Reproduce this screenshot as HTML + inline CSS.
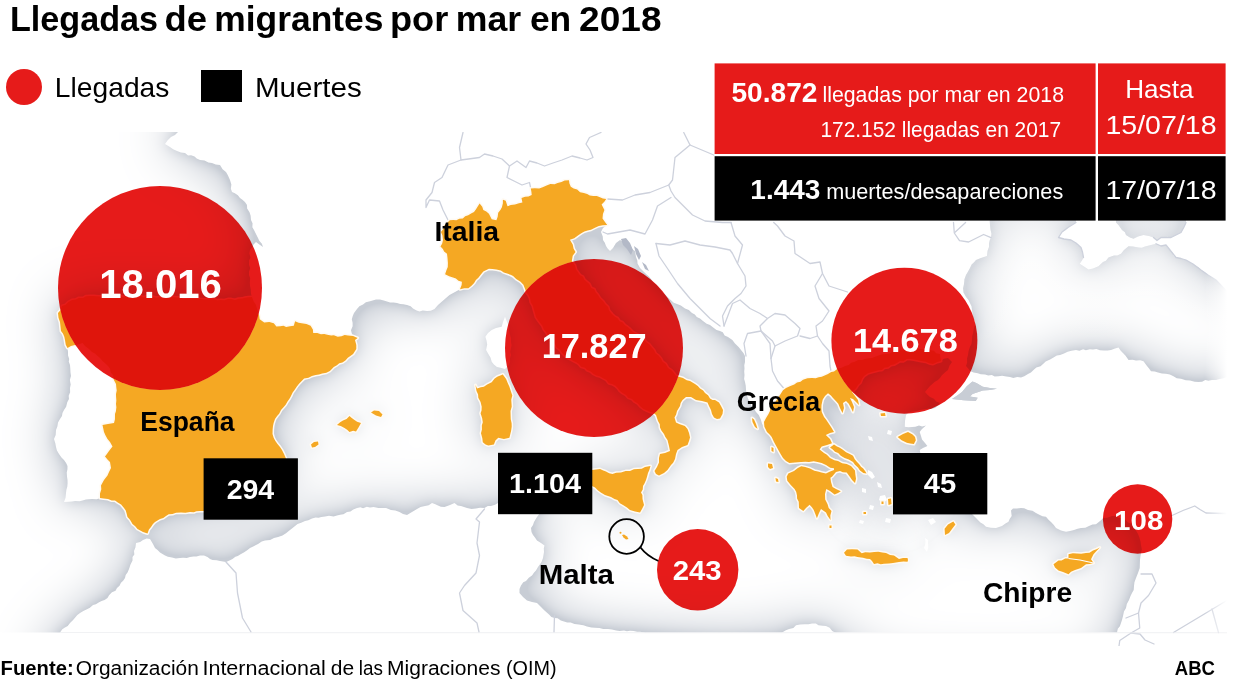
<!DOCTYPE html>
<html lang="es"><head><meta charset="utf-8"><title>Llegadas de migrantes por mar en 2018</title>
<style>
html,body{margin:0;padding:0;background:#fff;}
body{width:1248px;height:698px;overflow:hidden;font-family:"Liberation Sans",sans-serif;}
svg{display:block;font-family:"Liberation Sans",sans-serif;}
</style></head><body>
<svg width="1248" height="698" viewBox="0 0 1248 698">
<defs>
<filter id="glow" x="-5%" y="-5%" width="110%" height="110%" color-interpolation-filters="sRGB">
<feGaussianBlur in="SourceAlpha" stdDeviation="7" result="a"/>
<feGaussianBlur in="SourceAlpha" stdDeviation="26" result="b"/>
<feComposite in="a" in2="b" operator="arithmetic" k1="0" k2="0.7" k3="1.3" k4="0" result="m"/>
<feFlood flood-color="#c8cdd5" result="f"/>
<feComposite in="f" in2="m" operator="in"/>
</filter>
<filter id="soft" x="-30%" y="-30%" width="160%" height="160%"><feGaussianBlur stdDeviation="14"/></filter>
<clipPath id="mapclip"><rect x="0" y="132" width="1227" height="500.5"/></clipPath>
<clipPath id="mapclip2"><rect x="0" y="132" width="1227" height="514"/></clipPath>
<linearGradient id="bsfade" gradientUnits="userSpaceOnUse" x1="0" y1="225" x2="0" y2="345"><stop offset="0" stop-color="#fff" stop-opacity="0.3"/><stop offset="0.5" stop-color="#fff" stop-opacity="0.2"/><stop offset="1" stop-color="#fff" stop-opacity="0"/></linearGradient>
<linearGradient id="fadeR" x1="0" x2="1" y1="0" y2="0"><stop offset="0" stop-color="#fff" stop-opacity="0"/><stop offset="1" stop-color="#fff" stop-opacity="1"/></linearGradient>
</defs>
<rect width="1248" height="698" fill="#fff"/>

<g clip-path="url(#mapclip)">
<g filter="url(#glow)"><path d="M182,100 L181.76,103.57 L181.71,106.52 L181.49,109.21 L180.85,113.02 L180.93,115.8 L178.79,119.48 L180.03,122.15 L179.07,126.1 L177.71,128.9 L178,132 L174.96,134.94 L171,137 L167.66,140.26 L165,144 L170,147 L173.15,149.33 L177,151 L180.95,152.38 L185,153 L188.09,155.38 L191.08,155.26 L194.53,156.59 L196.67,158.43 L200,160 L204.52,160.58 L208.35,162.55 L212,163 L215.78,164.6 L220,165 L222.61,169.26 L226,172 L227.86,175.33 L230,180 L231.37,184.47 L230.88,188.67 L232,192 L234.83,193.34 L237.82,195.32 L240,198 L242.43,199.86 L244.97,201.89 L247,205 L247.12,208.58 L249.53,212.24 L250.64,215.74 L251,220 L252.56,223.18 L252.34,227.35 L254,230 L255.75,233.45 L258,238 L259.27,240.77 L261.89,243.82 L263,247 L259.32,244.57 L256,242 L253.51,244.52 L252.29,247.25 L250,250 L249.28,253.19 L250.46,257.65 L249.1,260.29 L249.03,264.78 L250.16,268.26 L249.07,271.4 L249,275 L250.18,278.36 L249.85,282.88 L250.07,286.3 L250.75,289.26 L250.96,293.61 L252,297 L248.23,297.14 L244.96,297.76 L242.13,298.61 L238.63,298.63 L235,300 L231.26,299.09 L227.97,299.11 L224.43,300.29 L220.91,300.1 L217.13,300.16 L214.27,299.53 L210.06,299.42 L206.72,299.46 L204,299.4 L200,299 L197.08,298.43 L193.29,298.85 L190.49,298.18 L186.55,298.65 L183.01,298.68 L180.34,297.17 L177.08,297.59 L172.89,296.96 L169.57,297.78 L166.58,296.58 L163.84,296.33 L160,297 L156.94,297.77 L153.63,296.92 L149.99,296.29 L146.94,296.03 L143.57,297.29 L140.44,296.02 L136.89,297.24 L133.78,295.94 L130.5,296.06 L126.86,295.85 L123.04,296.97 L120,296 L116.18,295.17 L113.04,295.45 L109.66,295.9 L106.44,296.3 L103.47,296.84 L100.17,296.53 L96.47,296.21 L93.69,296.05 L90,296 L85.91,296.15 L83.08,298.02 L78.87,297.96 L75.75,299.55 L72,300 L68.39,302 L65.64,304.84 L62,306 L60.47,310.17 L58,313 L58.53,317.66 L60,322 L60.53,326.59 L61,331 L62.95,333.46 L64.32,336.65 L65,340 L65.77,344.73 L67.5,348 L68,352 L68.04,355.52 L69.21,358.92 L68.73,361.4 L70,365 L70.28,368.19 L70.5,372.57 L71,376 L69.85,380.01 L70.7,384.39 L70,388 L70.14,392.13 L68.69,395.67 L69,399 L67.25,402.27 L66.15,406.74 L64,410 L62.45,413.06 L61.97,416.06 L60,419 L58,422.54 L57.42,426.32 L56,430 L55.68,435.01 L54,439 L55.31,443.18 L56,447 L56.92,450.44 L59,454 L61.47,457.56 L64,460 L66.12,462.99 L67.5,466 L67.45,469.29 L66.72,472.54 L67.06,476.93 L67.5,480 L67.58,483.31 L67.28,486.86 L66.42,489.84 L66,493 L65.56,497.65 L64,502 L68.51,501.66 L72,501.5 L75.07,500.97 L79.54,501.25 L82.5,500.5 L85.89,499.57 L88.46,499.16 L92,499 L96.67,499.27 L100,498 L103.58,498.52 L108,499 L111.72,500.58 L115,500.5 L117.81,502.47 L121.11,504.5 L124,508 L125.75,510.56 L126.74,514.11 L127.5,517 L130,519.82 L132.5,524 L135.23,526.19 L137.5,529 L143,532 L147.5,533.5 L148.92,529.61 L151,527 L152.96,524.12 L155,522 L160,519 L163.29,518.04 L166,516 L168.69,514.3 L172.5,514 L176.06,512.68 L181,512.5 L185.44,512.87 L190,512 L193.81,512.33 L196.48,511.15 L200.1,510.88 L204,511 L207.26,510.67 L210.7,510.52 L215,510.35 L218.02,509.65 L221.41,509.73 L225,510 L228.19,509.14 L231.36,508.84 L234.64,509.34 L238.41,509.44 L241.15,507.69 L245,508 L248.03,506.49 L251.82,503.77 L254.81,501.35 L258,500 L260.66,498.46 L263.44,496.48 L265.63,493.86 L268,492 L270.41,489.36 L272.5,487.59 L275,485 L278.36,483.08 L280.54,479.91 L283,478 L284.79,474.04 L288,470 L287.46,465.52 L286,462 L285.83,458.36 L284,454 L281.97,450.05 L279.97,447.05 L277.5,444 L275.21,440.83 L273.65,437.84 L272.5,434 L272.63,429.59 L273,426 L273.64,422.93 L275,419 L277.09,416.02 L279.14,413.63 L281,410 L283.51,407.24 L285.64,404.87 L287.5,401.5 L289.47,398.81 L291,396 L292.65,392.45 L294.5,390 L296.85,386.42 L299,383.8 L301.18,381.42 L304.1,378.6 L308.5,377.63 L311.9,376 L315.65,374.96 L318.99,374.59 L322.2,373.5 L326.42,372.76 L329.9,370.9 L333.8,367 L336.89,365.15 L339.27,363.29 L342.41,362.5 L345.4,360.6 L347.83,357.85 L350.68,355.74 L353.1,354.1 L356.3,349 L356.29,345.08 L355,340 L357.6,338 L353.1,336.1 L351.8,333.5 L350.97,330.19 L352.62,326.24 L352.6,322.8 L351.8,319.3 L352.75,315.88 L354,313 L357,309 L359.37,306.13 L363,304.5 L365.88,302.23 L370,301.3 L376,299.5 L380,299.5 L383.79,300.44 L387,301.5 L390.08,302.52 L393.66,302.39 L397,303 L400.23,304.03 L403.43,304.37 L407,305 L410.67,306.22 L413,308.5 L416.58,310.4 L419.5,311.5 L422.75,310.43 L427,311 L430.76,310.77 L434.5,309 L438,305 L442,301.5 L446,298 L449.5,295 L455,292 L460,289.2 L464.34,288.13 L468.4,288.2 L471.52,285.69 L474.13,283.05 L475.9,279.9 L478.36,277.83 L481.04,274.37 L483.3,271.5 L488.9,268.7 L492.54,269.1 L496.4,269.6 L500.89,270.58 L503.8,272.4 L507.17,273.58 L510.56,274.8 L513.1,276.1 L516.18,278.95 L520.6,281.7 L523.44,284.77 L525.2,289.2 L526.06,292.07 L528.54,295.11 L530,298 L530.78,302.28 L532.86,305.86 L534,310 L534.96,313.28 L536.05,317.24 L538,320 L539.94,322.69 L542.22,325.42 L543.87,329.56 L546,332 L547.97,335.5 L550.83,337.24 L552.72,341.43 L555,344 L556.72,347.29 L559.91,349.68 L562.4,353.32 L565,356 L567.93,358.06 L570.66,359.25 L573.37,360.98 L576.23,362.26 L578.85,364.04 L581.1,366.87 L585.01,367.72 L587,370 L590.72,371.53 L593.53,374 L596.44,375.51 L599.58,376.22 L602.66,378.01 L606.48,380.05 L608.82,383.2 L612,384 L615.49,385.83 L617.87,388.23 L619.73,390.84 L622.47,392.94 L626,395 L628.16,397.65 L632.1,399.1 L634.08,401.25 L637.79,403.53 L640,406 L643.1,408.73 L646.4,410.36 L650,412 L653.13,412.58 L656,415 L658,421 L659.81,424.17 L660,427.5 L661.41,430.53 L664,434 L665.38,437.04 L667.5,440 L669,446 L670,451 L665,453 L660,454 L659,458 L659,462.5 L657,467 L654.5,471 L656,474 L659,475.5 L664,473 L667.5,470 L671,465 L673.15,462.64 L675,459 L676,454 L677.5,450 L682,447 L687.5,445 L689,441 L690,437.5 L689,433 L687.5,429 L684.91,426.09 L682,425 L679.11,423.88 L676,422.5 L674.5,417.5 L676.11,414.58 L677,411 L680,406 L680.64,403.07 L682.5,400 L686,397 L691,397 L696,400 L702,401 L707.5,402.5 L709,406 L711,410 L712,414 L714,417.5 L717,419 L720,418.5 L722.5,414 L723,410 L721,406 L719,402.5 L715,400 L712.5,400 L710,398.5 L708.02,395.25 L705,393 L703.16,390.55 L700,388.5 L697.79,386.02 L695,384 L690,381 L686.73,380.19 L683,378 L679.55,377.02 L676,376 L673.89,372.95 L671.43,370.3 L668,368 L665.73,363.98 L662.6,361.7 L660.9,358.4 L658.43,355.59 L655.56,353.3 L654,350 L651.76,347.48 L649.51,344.57 L646,342 L644.2,339.44 L640.57,338.21 L638.2,334.81 L635.24,333.25 L632.58,331.86 L630,329 L627.41,326.87 L624.94,325.28 L622.4,322.2 L619.59,321.17 L617.6,318.18 L614.61,316.53 L612,314 L609.08,310.52 L608.13,307.03 L605,304 L603.22,301.23 L599.82,298.03 L598,295 L595.62,292.31 L594.27,289.21 L591.29,287.96 L589.34,283.91 L587,282 L584.17,279.41 L583.04,276.84 L579.78,274.92 L578.18,272.58 L576,269.5 L574.89,265.44 L571.8,261.2 L572.7,255.7 L575.5,251.9 L573.62,248.82 L572.7,244.5 L569.9,239.8 L574.25,238.2 L578.3,235.2 L581.25,233.19 L584.35,231.44 L587.6,230.5 L591,229.72 L594.97,227.76 L598.8,225.9 L602.66,225.28 L607.2,224.9 L603,228 L601,232 L602.76,236.42 L603,240 L604.81,242.69 L606,246 L607.62,248.51 L610,251 L613,248 L616,243 L620,240 L622.45,241.55 L626,243 L630,247 L632.66,249.43 L635,251 L636,257 L637.33,260.54 L637.5,263.5 L640,268 L644,272 L646.29,274.17 L648.67,276.28 L651,279 L653.14,282.3 L656.57,285.14 L659,288 L661.01,290.34 L662.83,293 L665.56,295.04 L668,297.5 L670.76,300.08 L673.7,302.7 L677,304 L680.83,305.55 L685,308.5 L688.82,310.03 L692,313 L694.85,314.38 L696.76,316.98 L700,318.5 L702.96,320.95 L706.63,323.71 L710,325 L712.84,327.23 L716.5,329.94 L720,331 L722.82,332.14 L724.63,335.43 L728,337 L732.36,340.07 L735,343.5 L738.64,346.96 L741,350 L743.45,352.94 L745,356 L745,362 L744.29,365.15 L744.5,368.5 L744.2,371.52 L744.5,375 L744.11,378.95 L745,382 L745.72,385.8 L746,390 L746.75,394.78 L748.01,398.68 L750,402 L751.32,405.78 L754.09,408.66 L756,412 L758.78,415.04 L761,420 L762.03,423.69 L764.4,426.7 L767,432 L769.87,434.66 L771.7,437 L774,442 L777,447.5 L780,453 L783,458 L786,461 L789.4,463 L795,462.5 L801,462 L805.44,461.77 L809,462 L813.68,461.17 L817.5,462 L821.66,463.07 L826,465 L830.21,467.65 L834,468.3 L834,470 L829.52,471.69 L826,473.5 L821.4,472.43 L818,471.5 L814.38,470.71 L810,468.5 L805.22,467.11 L801.25,466.25 L797.83,467.96 L794,471 L788.3,473.5 L786.7,476.7 L787.3,480.8 L790.8,485 L794.6,489 L796.16,491.74 L797,495.4 L797.08,498.56 L798.75,501.7 L799,508 L803.3,511 L806,508 L809.6,504.8 L811.91,507.17 L813.75,510 L815.62,514.66 L816.9,518.3 L819,513 L821,509 L826,512.5 L827.7,515.99 L830.5,520 L830.33,515.59 L831.5,511 L828.69,507.89 L827.5,504 L825.2,499.6 L825,494 L826.25,489 L830,491 L834.6,494.4 L838,493 L840.8,491.25 L836,489 L832.5,487 L831,482 L830.4,477.7 L832,476.7 L836,472 L840,471 L842.77,472.14 L846.7,472.5 L850,477 L852.05,480.06 L855,483 L856,478.8 L855.36,474.59 L855,470.4 L851,466 L846.7,464 L842.15,463.23 L838,461 L834.39,460.16 L830,458 L826.91,454.73 L824,453 L819.6,449.6 L821.7,446.5 L827,445 L832,443.3 L830,439 L825.8,435 L830,433 L834,432 L831,427 L828,422.5 L826,419.61 L824,417 L821.7,412 L821.39,408.86 L821.5,405 L822.7,399.6 L825,396 L828,393.3 L830.93,395.61 L833,398 L835.89,401.09 L838.3,403.75 L840,408 L842.5,413 L844,408 L843,403 L846,401 L848.75,403.75 L851,408 L853,412 L854,407 L852,402 L850,398 L853,399 L856,402 L859,405 L858,400 L855,396 L852,392 L855.86,388.4 L858,385 L860.46,382.72 L861.92,379 L864,376 L867.65,373.44 L872,372 L875.06,371.37 L878.55,370.21 L882,370 L884.39,367.72 L887.99,367.31 L891,365 L894.03,364.58 L896.94,362.95 L900,361 L903.32,361.15 L906.84,358.92 L910,359 L913.87,359.47 L917.51,360.33 L921,361 L925.7,361.66 L929.14,363.18 L933,364 L937.33,361.92 L941,361 L943.83,358.87 L948,358 L952,362 L949.44,365.67 L948,370 L945.46,372.09 L941.9,375.27 L940,378 L937.61,380.19 L934.88,381.66 L932.32,383.92 L930,386 L927.63,388.8 L925,392 L927.24,394.42 L930,397 L933.92,398.79 L936.23,401.44 L940,403 L937.45,406.06 L935,408 L931.62,408.63 L927.63,408.66 L923.29,409.55 L920,410 L916.04,411.23 L911.94,411.61 L908,413 L906,415 L905,421 L904.8,426.7 L908.51,427.22 L912,427 L915.29,426.64 L919,425.42 L922.2,426.6 L926,425.4 L922,429 L919.7,431.9 L921,436 L922,439.6 L925,443 L927.4,446 L923,448 L919.7,450 L921,456 L923.36,458.26 L925,462 L923.38,464.82 L922,468 L925.79,470.81 L928,474 L926,480 L928.15,482.97 L932,486 L934.84,487.47 L938,490 L936.1,492.58 L934,496 L937.86,498.39 L942,500 L946.13,501.51 L950,503 L954.37,505.12 L958,506 L962.33,507.67 L965,510 L968.78,512.49 L972,514 L976,518 L980.4,522.5 L983.41,524.33 L986,526.75 L990.8,527.7 L996,528 L1002,526 L1005.48,523.55 L1008.5,521.75 L1009.65,518.91 L1011.7,516 L1011,510.5 L1013,508.5 L1016.86,508.53 L1021,508 L1024.23,508.14 L1028,510 L1032.47,510.74 L1036,513 L1039.36,514.78 L1042.53,516.35 L1046,516.75 L1048.53,519.83 L1051,522 L1053.81,525.06 L1056,528 L1061,530.5 L1066,531.75 L1070.09,530.93 L1074,530 L1077.63,528.7 L1081,528 L1085.33,527.76 L1089,526 L1092.46,524.52 L1096,524.25 L1100,521 L1103.5,518 L1107.32,517.78 L1112,516 L1115.65,515.93 L1118.3,517.63 L1122,518 L1125.45,519.76 L1128.06,522.41 L1132,524 L1134.63,526.79 L1135.82,530.18 L1138,534 L1139.42,537.46 L1140.52,541.44 L1141,545 L1141.83,549.47 L1141,553 L1140.43,556.47 L1140,560 L1139.87,563.93 L1139.75,568 L1138,573 L1136,578 L1134.45,582.32 L1134,586 L1133.73,589.89 L1132,593 L1130.53,596.1 L1129,600 L1126.82,603.9 L1126,608 L1123.94,611.46 L1123,616 L1122.06,619.74 L1121,623 L1119.89,626.18 L1117.76,628.63 L1117,632.5 L1115.42,635.18 L1115.78,638.86 L1114.55,642.21 L1112.33,645.04 L1111.23,648.6 L1111.04,651.7 L1110,655 L1106.89,657.43 L1103.78,657.6 L1101.23,660.52 L1097.66,660.72 L1094.63,663.67 L1091.08,664.84 L1087.51,666.09 L1085,668 L1000,672 L900,668 L896.95,667.09 L893.64,665.66 L890.3,665.38 L887.04,664.69 L885.06,662.44 L881.25,661.98 L878.66,660.37 L875.17,659.56 L873.03,658.3 L868.85,658.1 L865.97,657.73 L862.92,655.53 L860,655 L858.33,652.39 L855.1,650.93 L851.63,648.4 L849.66,645.39 L848.34,643.04 L845,641 L842.43,637.98 L838.62,635.61 L836,633 L832.21,630.91 L829.69,627.81 L826,626 L822.96,625.64 L818.44,625.32 L815.92,623.58 L812,623.5 L808.46,624.15 L804.54,624.17 L800,624.5 L796,625.17 L793.38,628 L789,629 L785.88,630.25 L782.05,632.38 L779.1,634.72 L775,636 L772.01,636.09 L768.77,636.11 L765.59,635.34 L762.46,635.63 L758.47,635.52 L755.92,636.62 L752.38,636.44 L748.65,636.53 L745.77,636.83 L742.67,635.75 L739.11,636.88 L736.09,635.82 L733.23,636.94 L729.72,637.49 L726.17,637.13 L723.15,636.55 L720,637 L716.87,637.32 L712.88,636.14 L709.77,636.03 L706.54,636.43 L703.69,636.77 L700.07,635.33 L696.49,636.38 L693.43,635.53 L690.27,635.49 L686.33,635.69 L683.83,634.96 L680,635 L676.96,633.9 L673.28,635.41 L669.63,635.06 L666.62,634.33 L663.54,633.92 L659.69,633.24 L656.91,633.4 L653.46,633.37 L650,633 L647.13,633.47 L643.68,632.47 L640.16,631.68 L637.19,631.74 L633.73,631 L630.06,630.86 L626.91,631.21 L624,630.5 L619.65,631.01 L616.12,630.49 L612,629.5 L607.99,629.02 L603.23,629.03 L599.5,628 L595,627.67 L591.33,627.46 L587,626.5 L583.35,625.32 L578.73,624.56 L574.5,624 L570.67,622.58 L567.17,622.59 L564,621.5 L560.81,620.42 L557.59,618.24 L554.5,618 L551.37,616.91 L549,614.5 L544.5,610.5 L541,607 L537,603 L532,602 L527,600.5 L523,597 L519.5,593 L519.5,589 L521,585.5 L523.24,582.36 L526,581 L528.8,577.85 L532,575.5 L533.92,572.8 L535.97,570.4 L538,567 L539.84,564.41 L541.63,561.72 L543,558 L544,552 L543.81,548.23 L544.5,545.5 L541,543 L537,540.5 L535.14,537.77 L533,535 L531.5,531.89 L531,528 L533.02,524.93 L534,522 L537,517 L540,513 L542.43,509.96 L545,508 L546.19,503.51 L548,499 L545,498 L541.91,497.41 L538.81,495.98 L535,496 L532.03,496.74 L528.35,496.9 L525,497 L521.91,498.5 L516.91,497.91 L513.48,498.59 L510,500 L505.68,501.14 L502.48,502.03 L498,503 L495,504.81 L491,506 L487.82,506.04 L484.5,508 L480.02,507.83 L476,508.5 L471.49,509.12 L467,508 L461,506 L457.65,505.39 L454.5,503 L450,505 L444.5,507 L440.89,506.66 L438,505.5 L435.35,504.33 L432,503 L428.68,505.31 L425,506 L420.51,507.03 L417,509 L412,512 L407,515 L403,514 L399.5,512 L395.32,510.5 L391,510 L386.07,508 L382,508 L378.35,507.98 L373.67,507.02 L370,507.5 L366.85,506.84 L363.08,508.24 L360.39,507.14 L357,508 L353.27,509.43 L350.43,511.44 L347,512 L343.46,514.15 L340.01,514.83 L337,515.5 L333.57,516.39 L329.04,515.74 L325,516.5 L321.28,516.93 L318.52,517.75 L315.59,517.59 L312,518.5 L308.31,520.29 L305,521 L301.1,522.75 L297.5,524 L294.71,526.35 L292.26,528.33 L290,530 L286.02,533.22 L282.5,535.5 L278.12,536.91 L274,538 L270.15,539.94 L265,540.5 L261.72,541.44 L258,544 L253.7,546.24 L250,548 L247.53,550.05 L243.83,552.38 L241,554 L237.82,555.9 L235.38,556.79 L232.5,559 L229.51,560.39 L226,562 L220,561 L216.72,560.16 L212.5,560 L210,559 L207.5,557 L204,555.5 L200,555.5 L196.48,556.51 L193.62,556.48 L190,557 L186.78,557.92 L183.16,557.72 L180,558 L175.82,558.4 L172,557.5 L167.88,556.84 L165,555.5 L160,552.5 L157.53,550.07 L155,548 L153,544 L150,539 L146.71,538.59 L143,540 L140.16,542.08 L136,543 L135.48,547.3 L134,551 L134.33,554.48 L132.5,556.99 L132.5,560.5 L130.41,564.84 L129,569 L127.67,572.19 L125.67,575 L125,578 L123.16,580.8 L120.97,582.77 L119.54,585.72 L117,588 L115.56,590.74 L111.96,592.22 L109.06,595.19 L107.5,598 L104.6,599.93 L101.61,600.94 L99.08,602.3 L95.83,604.22 L93,605 L89.87,607.77 L86.9,609.26 L83.29,610.98 L80,613 L77.32,615.09 L75.19,617.62 L72.83,620.28 L70,623 L67.69,625.95 L64.51,627.77 L62.28,629.36 L60,632.5 L58.1,634.94 L55.24,637.91 L54.18,641.02 L51.98,643.99 L49.4,646.32 L47.3,648.48 L46.19,652.25 L43.53,654.35 L41.45,656.72 L40,660 L40.61,662.87 L39.25,666.35 L40.38,669.51 L39.89,673.38 L39.12,676.44 L40.44,680.13 L40.81,682.83 L39.29,686.91 L39.3,690.02 L40.03,692.92 L40.75,696.89 L40.61,699.97 L39.49,703.33 L39.33,706.69 L39.79,710.46 L39.97,713.42 L40.12,716.51 L40,720 L1320,720 L1320,100ZM989.75,205 L989.63,208.29 L989.56,211.42 L989.32,215.32 L989.79,218.39 L989.78,221.93 L990,225 L990.49,229.53 L991.5,233.81 L991,237.5 L989.69,240.47 L989.05,243.41 L989,247 L987.54,251.11 L987,256 L981,258 L976,260 L974.08,262.28 L971.63,264.56 L970,268 L967.79,271.9 L966,275 L964.45,279.21 L964,284 L963.08,288.35 L963.5,292.5 L966,297 L968.5,300 L970.3,303.64 L971.53,306.24 L972,310 L972.76,314.19 L973.12,317.35 L975.16,321.47 L975,325 L973.89,328.45 L973.15,332.86 L972.26,335.95 L972,340 L971.5,344.05 L969.89,346.96 L968.51,351.22 L968,355 L967.04,358.44 L967.14,362.56 L966,366 L968.2,368.43 L970,371 L973.5,372.5 L977.69,373.16 L980.75,374.14 L985,374.5 L988.22,375.46 L991.86,375.06 L994.66,376.6 L998.5,376.25 L1002.07,375.82 L1006.3,376.45 L1010,377 L1013.33,378.02 L1017.24,377.08 L1021,377.5 L1024.3,376.37 L1028,374 L1030.96,372.62 L1033.5,370 L1036.29,367.53 L1040.57,366.19 L1043,364 L1045.66,361.53 L1050.05,359.45 L1053.5,357.5 L1056.79,355.41 L1060.09,354.89 L1064,353.5 L1067.6,351.66 L1071.5,350.86 L1076,350 L1079.4,350.65 L1083.09,349.34 L1085.86,350.22 L1089.82,349.14 L1093,349.5 L1096.44,348.93 L1099.89,350.32 L1104.03,350.53 L1107.62,350.55 L1111,350 L1115,348.5 L1118.5,347.5 L1120.75,350.7 L1123,353 L1125.62,355.82 L1128.5,360 L1132.61,359.7 L1136,360.5 L1140.19,360.19 L1143.5,361.25 L1147,366 L1148.83,368.35 L1151,371.25 L1154.76,371.42 L1158,372.5 L1161.89,373.48 L1166,373.75 L1169.89,374.62 L1173,376 L1176.73,378.17 L1181,378.75 L1185.76,380.16 L1190,380.5 L1194.64,381.66 L1198.5,382 L1202.11,381.77 L1205.27,380.09 L1208.47,380.64 L1212,380 L1216.16,380.04 L1219.52,379.12 L1222.45,378.5 L1226,377.5 L1228.99,376.76 L1233.15,376.6 L1235.75,375.85 L1239.28,376.18 L1242.41,375.12 L1246.34,374.5 L1249.72,375.43 L1253.18,374.75 L1257,374.42 L1259.67,373.65 L1263.44,372.37 L1266.33,372.7 L1270,372 L1270,300 L1266.97,299.86 L1263.71,298.65 L1260.31,298.06 L1257.01,297.63 L1253.79,295.77 L1250.6,295.59 L1247.78,294.61 L1244.96,294.15 L1240.86,294.24 L1238.43,292 L1235.11,292.15 L1232.22,291.31 L1229.16,290.74 L1225.5,290 L1222.96,287.21 L1221.15,285.14 L1218.49,282.64 L1216,280 L1211.59,277.48 L1208,275 L1204.85,272.31 L1201,270 L1198.69,267.49 L1195.9,265.99 L1193,264 L1189.32,262.06 L1186,260 L1181,258.5 L1176,257.5 L1173.43,255.38 L1172.37,252.53 L1170,250 L1167.34,247.85 L1166,245 L1161,246 L1156,243.75 L1151,245 L1145,246.5 L1141.85,247.66 L1138.5,247.5 L1133,246.5 L1128.5,246.25 L1124,250 L1121,253.75 L1117.35,255.54 L1114,255.5 L1108.5,257.5 L1105.93,260.63 L1103,262 L1098.5,266.25 L1093,268.5 L1088.5,269.5 L1084,266.5 L1079.75,263.75 L1082,260.5 L1083.5,257.5 L1082.5,252 L1081,247.5 L1077.85,245.55 L1076,243 L1071,240 L1067.48,239.44 L1064,239 L1058.5,237.5 L1059.95,235.12 L1062,232 L1065.24,230.21 L1068,227.5 L1071.26,225.12 L1076,222.5 L1075.72,218.59 L1077.1,215.54 L1076.88,211.7 L1077.16,208.68 L1078,205ZM1116,205 L1115.52,208.79 L1115.74,212.14 L1115.47,215.36 L1115.89,218.89 L1116,222.5 L1118.5,225 L1122,230 L1124.95,232.34 L1126,235 L1130,237.5 L1133.5,238.75 L1138,236.5 L1143.5,235 L1149,236 L1153.5,237.5 L1157,240.5 L1161,237.5 L1164.41,237.81 L1167.17,236.63 L1171,237.5 L1176,235 L1181,232.5 L1184,227 L1186,222.5 L1185.93,218.96 L1185.51,215.75 L1186.29,212.31 L1185.78,208.37 L1186,205ZM952,399 L958,395 L962,392 L967,386 L972.5,381.6 L976.4,383 L982.8,386.8 L990,388 L997,388.7 L990,390 L982.8,390.6 L972.5,393.9 L970,396.4 L977.7,397.7 L975.7,401 L963.5,400.3Z" fill="#c8cdd5" fill-rule="evenodd"/><path d="M505,316.7 L503,322 L501.7,326.7 L496,328 L491.7,330 L488,333 L485.4,336.7 L486.57,340.83 L487.2,344.4 L486.1,350 L488.04,353.42 L490.6,357.8 L491.72,361.72 L493.9,364.4 L497,367 L500.6,367.8 L505,369 L509,365 L510.13,361.63 L509.94,358.53 L511,355 L510.24,351.97 L511.01,348.08 L511.63,345.17 L511,342 L511.04,338.31 L509.7,333.83 L509,330 L508.7,325.2 L507,322ZM868,470 L872,472 L875,477 L872,479 L868,475ZM877,482 L881,484 L882,488 L878,487ZM880,496 L885,495 L887,500 L883,503 L879,500ZM862,488 L866,489 L866,493 L862,492ZM870,505 L874,506 L873,510 L869,509ZM860,520 L864,521 L863,524 L859,523ZM886,518 L891,519 L890,523 L885,522ZM928,520 L933,518 L936,522 L931,525ZM925,538 L928,540 L928.11,544.35 L928.22,547.57 L927,552 L924,548 L925.22,544.32 L925.52,541.61ZM888,430 L892,431 L891,435 L887,434ZM868,436 L872,437 L873,441 L869,440ZM475.5,385 L477,388.5 L480.85,387.32 L483.9,386.7 L487.14,384.55 L491.7,382.2 L494.43,378.76 L497.2,376.7 L502.8,374.4 L506.1,378.9 L507.61,382.67 L509.4,386.7 L511.03,391.77 L512.3,395.6 L511.23,399.63 L511.5,403.17 L511.7,406.7 L510.49,411.01 L510.6,415.6 L510.73,419.23 L511.62,423.15 L511.7,426.7 L511.06,431 L510.33,433.89 L509.4,437.8 L503.9,438.9 L498.3,437.8 L495.43,440.55 L493.9,444.4 L488.3,445.6 L485.58,444.39 L482.8,442.2 L482.33,438.2 L481,433.3 L481.93,429.59 L481.84,425.6 L482.8,422.2 L482.17,418.17 L480.6,413.3 L481.57,410.52 L481.7,406.7 L480.59,401.9 L478.3,397.8 L478.11,394.59 L476.5,391ZM592,470 L596.31,469.4 L600,469 L603.25,470.52 L606,471.5 L609.16,473.2 L612.5,474 L616.24,472.78 L621,472.5 L625.68,471.06 L630,471 L633.89,469.36 L638,469 L641.74,468.74 L645,467 L650.5,466 L649.34,470.12 L648,473 L647.08,476.51 L646,480 L644.48,483.41 L643,486 L642.72,489.53 L641,492.5 L642.4,495.09 L642.5,499 L644,505 L642,509 L640,512.5 L635,511.5 L630,510 L626.96,507.6 L623,505 L619.9,503.2 L617.5,500 L614.43,498.97 L611,497 L605,495 L600.76,492.38 L597.5,490 L595.09,487.59 L592,486 L588.27,483.84 L585,482 L581.27,479.38 L578,478 L575,473 L578,469 L581.64,468.45 L585,468 L588.91,469.09ZM830,447.5 L834,444.4 L836.98,446.51 L839.34,447.58 L842.5,449.6 L846.09,452.32 L849.81,454.07 L853,455.8 L854.72,459.15 L856.82,461.81 L859,464 L860.99,466.71 L863.22,468.45 L865.4,471.5 L866.5,473.5 L863.34,472.91 L860,470.4 L857.99,467.61 L854.95,464.75 L853,462 L848.75,459.47 L844.6,458 L840.78,455.81 L838.13,452.98 L835,451.7 L832.78,449.45ZM844,552.7 L847,549.6 L852,549.2 L857.5,549.6 L861.7,553.3 L865.23,552.15 L870,552.5 L874.31,551.98 L878.3,551.7 L882.27,552.58 L886,553 L890.03,554.93 L894,555.4 L899,559 L903,558 L907.5,558 L908,560 L907.5,561.7 L903.54,561.57 L899,562 L893,563 L888.95,563.41 L884,563.8 L880.71,564.13 L877.47,563.2 L874,564 L872,560.93 L870,559 L866.64,558.87 L863,557.8 L857.5,557 L854.51,556.34 L851,556.5 L846,555.8ZM953.3,521.5 L955.4,524.6 L952,529 L949,533 L945,535 L944.6,528.75 L948,524.6ZM897.7,437 L903,434 L908,431.9 L912.6,434.5 L915.03,437.08 L915.8,440.3 L913.9,444.1 L910.27,443.59 L906.8,442.8 L901.6,440.3ZM1053.5,564.25 L1058.5,560.5 L1061.53,560.45 L1065.24,558.55 L1068.5,558.5 L1068.5,554.25 L1072.87,553.37 L1077,553.5 L1081.14,553.82 L1086,553 L1089.49,552.64 L1093,550.5 L1096.62,549.19 L1099.75,547.5 L1096,551.5 L1093.5,554.25 L1091,559.25 L1093.5,563 L1089.56,564.07 L1086,564.25 L1081,568 L1075,570 L1071,571.75 L1068.5,574.25 L1063,572 L1058.5,570.5 L1055,567.5ZM337,425 L340.13,422.2 L343,420.5 L346.56,419.05 L349.5,416 L351.76,417.92 L354.5,420 L357.1,421.75 L361,423 L358.5,427.5 L356,431.5 L353.15,430.86 L349.5,432 L347.11,429.79 L344.5,428 L340.76,426.09ZM371,412.5 L374,410.5 L379,411 L382.5,414.5 L381,417 L376,415.5ZM311,444.5 L314,442 L318,441.5 L318.5,444.5 L315,447 L312,447.5ZM752,418 L754,419.5 L756,424 L757.5,428.75 L755,427 L752.5,422ZM771.5,447 L773.5,448 L773.5,452 L771.5,451ZM768,463.5 L772,464 L773,468 L770,469 L768,467ZM775.5,478 L778,479 L778.5,482 L776,481.5ZM880.5,413.5 L885,413 L885.5,416 L881,416ZM888,499 L891,498.5 L891.5,504 L888.5,505ZM881.5,501.5 L883.5,501.5 L883.5,504 L881.5,504ZM863.5,512 L866,512 L866,514 L863.5,514ZM829.5,525.5 L831.5,525.5 L831.5,528 L829.5,528Z" fill="#c8cdd5"/></g>
<path d="M989.75,205 L989.63,208.29 L989.56,211.42 L989.32,215.32 L989.79,218.39 L989.78,221.93 L990,225 L990.49,229.53 L991.5,233.81 L991,237.5 L989.69,240.47 L989.05,243.41 L989,247 L987.54,251.11 L987,256 L981,258 L976,260 L974.08,262.28 L971.63,264.56 L970,268 L967.79,271.9 L966,275 L964.45,279.21 L964,284 L963.08,288.35 L963.5,292.5 L966,297 L968.5,300 L970.3,303.64 L971.53,306.24 L972,310 L972.76,314.19 L973.12,317.35 L975.16,321.47 L975,325 L973.89,328.45 L973.15,332.86 L972.26,335.95 L972,340 L971.5,344.05 L969.89,346.96 L968.51,351.22 L968,355 L967.04,358.44 L967.14,362.56 L966,366 L968.2,368.43 L970,371 L973.5,372.5 L977.69,373.16 L980.75,374.14 L985,374.5 L988.22,375.46 L991.86,375.06 L994.66,376.6 L998.5,376.25 L1002.07,375.82 L1006.3,376.45 L1010,377 L1013.33,378.02 L1017.24,377.08 L1021,377.5 L1024.3,376.37 L1028,374 L1030.96,372.62 L1033.5,370 L1036.29,367.53 L1040.57,366.19 L1043,364 L1045.66,361.53 L1050.05,359.45 L1053.5,357.5 L1056.79,355.41 L1060.09,354.89 L1064,353.5 L1067.6,351.66 L1071.5,350.86 L1076,350 L1079.4,350.65 L1083.09,349.34 L1085.86,350.22 L1089.82,349.14 L1093,349.5 L1096.44,348.93 L1099.89,350.32 L1104.03,350.53 L1107.62,350.55 L1111,350 L1115,348.5 L1118.5,347.5 L1120.75,350.7 L1123,353 L1125.62,355.82 L1128.5,360 L1132.61,359.7 L1136,360.5 L1140.19,360.19 L1143.5,361.25 L1147,366 L1148.83,368.35 L1151,371.25 L1154.76,371.42 L1158,372.5 L1161.89,373.48 L1166,373.75 L1169.89,374.62 L1173,376 L1176.73,378.17 L1181,378.75 L1185.76,380.16 L1190,380.5 L1194.64,381.66 L1198.5,382 L1202.11,381.77 L1205.27,380.09 L1208.47,380.64 L1212,380 L1216.16,380.04 L1219.52,379.12 L1222.45,378.5 L1226,377.5 L1228.99,376.76 L1233.15,376.6 L1235.75,375.85 L1239.28,376.18 L1242.41,375.12 L1246.34,374.5 L1249.72,375.43 L1253.18,374.75 L1257,374.42 L1259.67,373.65 L1263.44,372.37 L1266.33,372.7 L1270,372 L1270,300 L1266.97,299.86 L1263.71,298.65 L1260.31,298.06 L1257.01,297.63 L1253.79,295.77 L1250.6,295.59 L1247.78,294.61 L1244.96,294.15 L1240.86,294.24 L1238.43,292 L1235.11,292.15 L1232.22,291.31 L1229.16,290.74 L1225.5,290 L1222.96,287.21 L1221.15,285.14 L1218.49,282.64 L1216,280 L1211.59,277.48 L1208,275 L1204.85,272.31 L1201,270 L1198.69,267.49 L1195.9,265.99 L1193,264 L1189.32,262.06 L1186,260 L1181,258.5 L1176,257.5 L1173.43,255.38 L1172.37,252.53 L1170,250 L1167.34,247.85 L1166,245 L1161,246 L1156,243.75 L1151,245 L1145,246.5 L1141.85,247.66 L1138.5,247.5 L1133,246.5 L1128.5,246.25 L1124,250 L1121,253.75 L1117.35,255.54 L1114,255.5 L1108.5,257.5 L1105.93,260.63 L1103,262 L1098.5,266.25 L1093,268.5 L1088.5,269.5 L1084,266.5 L1079.75,263.75 L1082,260.5 L1083.5,257.5 L1082.5,252 L1081,247.5 L1077.85,245.55 L1076,243 L1071,240 L1067.48,239.44 L1064,239 L1058.5,237.5 L1059.95,235.12 L1062,232 L1065.24,230.21 L1068,227.5 L1071.26,225.12 L1076,222.5 L1075.72,218.59 L1077.1,215.54 L1076.88,211.7 L1077.16,208.68 L1078,205ZM1116,205 L1115.52,208.79 L1115.74,212.14 L1115.47,215.36 L1115.89,218.89 L1116,222.5 L1118.5,225 L1122,230 L1124.95,232.34 L1126,235 L1130,237.5 L1133.5,238.75 L1138,236.5 L1143.5,235 L1149,236 L1153.5,237.5 L1157,240.5 L1161,237.5 L1164.41,237.81 L1167.17,236.63 L1171,237.5 L1176,235 L1181,232.5 L1184,227 L1186,222.5 L1185.93,218.96 L1185.51,215.75 L1186.29,212.31 L1185.78,208.37 L1186,205Z" fill="url(#bsfade)"/>
<path d="M838,400 L905,418 L925,450 L930,500 L900,525 L860,520 L835,480 L830,440 Z" fill="#c8cdd5" fill-opacity="0.42" filter="url(#soft)"/>
<path d="M182,100 L181.76,103.57 L181.71,106.52 L181.49,109.21 L180.85,113.02 L180.93,115.8 L178.79,119.48 L180.03,122.15 L179.07,126.1 L177.71,128.9 L178,132 L174.96,134.94 L171,137 L167.66,140.26 L165,144 L170,147 L173.15,149.33 L177,151 L180.95,152.38 L185,153 L188.09,155.38 L191.08,155.26 L194.53,156.59 L196.67,158.43 L200,160 L204.52,160.58 L208.35,162.55 L212,163 L215.78,164.6 L220,165 L222.61,169.26 L226,172 L227.86,175.33 L230,180 L231.37,184.47 L230.88,188.67 L232,192 L234.83,193.34 L237.82,195.32 L240,198 L242.43,199.86 L244.97,201.89 L247,205 L247.12,208.58 L249.53,212.24 L250.64,215.74 L251,220 L252.56,223.18 L252.34,227.35 L254,230 L255.75,233.45 L258,238 L259.27,240.77 L261.89,243.82 L263,247 L259.32,244.57 L256,242 L253.51,244.52 L252.29,247.25 L250,250 L249.28,253.19 L250.46,257.65 L249.1,260.29 L249.03,264.78 L250.16,268.26 L249.07,271.4 L249,275 L250.18,278.36 L249.85,282.88 L250.07,286.3 L250.75,289.26 L250.96,293.61 L252,297 L248.23,297.14 L244.96,297.76 L242.13,298.61 L238.63,298.63 L235,300 L231.26,299.09 L227.97,299.11 L224.43,300.29 L220.91,300.1 L217.13,300.16 L214.27,299.53 L210.06,299.42 L206.72,299.46 L204,299.4 L200,299 L197.08,298.43 L193.29,298.85 L190.49,298.18 L186.55,298.65 L183.01,298.68 L180.34,297.17 L177.08,297.59 L172.89,296.96 L169.57,297.78 L166.58,296.58 L163.84,296.33 L160,297 L156.94,297.77 L153.63,296.92 L149.99,296.29 L146.94,296.03 L143.57,297.29 L140.44,296.02 L136.89,297.24 L133.78,295.94 L130.5,296.06 L126.86,295.85 L123.04,296.97 L120,296 L116.18,295.17 L113.04,295.45 L109.66,295.9 L106.44,296.3 L103.47,296.84 L100.17,296.53 L96.47,296.21 L93.69,296.05 L90,296 L85.91,296.15 L83.08,298.02 L78.87,297.96 L75.75,299.55 L72,300 L68.39,302 L65.64,304.84 L62,306 L60.47,310.17 L58,313 L58.53,317.66 L60,322 L60.53,326.59 L61,331 L62.95,333.46 L64.32,336.65 L65,340 L65.77,344.73 L67.5,348 L68,352 L68.04,355.52 L69.21,358.92 L68.73,361.4 L70,365 L70.28,368.19 L70.5,372.57 L71,376 L69.85,380.01 L70.7,384.39 L70,388 L70.14,392.13 L68.69,395.67 L69,399 L67.25,402.27 L66.15,406.74 L64,410 L62.45,413.06 L61.97,416.06 L60,419 L58,422.54 L57.42,426.32 L56,430 L55.68,435.01 L54,439 L55.31,443.18 L56,447 L56.92,450.44 L59,454 L61.47,457.56 L64,460 L66.12,462.99 L67.5,466 L67.45,469.29 L66.72,472.54 L67.06,476.93 L67.5,480 L67.58,483.31 L67.28,486.86 L66.42,489.84 L66,493 L65.56,497.65 L64,502 L68.51,501.66 L72,501.5 L75.07,500.97 L79.54,501.25 L82.5,500.5 L85.89,499.57 L88.46,499.16 L92,499 L96.67,499.27 L100,498 L103.58,498.52 L108,499 L111.72,500.58 L115,500.5 L117.81,502.47 L121.11,504.5 L124,508 L125.75,510.56 L126.74,514.11 L127.5,517 L130,519.82 L132.5,524 L135.23,526.19 L137.5,529 L143,532 L147.5,533.5 L148.92,529.61 L151,527 L152.96,524.12 L155,522 L160,519 L163.29,518.04 L166,516 L168.69,514.3 L172.5,514 L176.06,512.68 L181,512.5 L185.44,512.87 L190,512 L193.81,512.33 L196.48,511.15 L200.1,510.88 L204,511 L207.26,510.67 L210.7,510.52 L215,510.35 L218.02,509.65 L221.41,509.73 L225,510 L228.19,509.14 L231.36,508.84 L234.64,509.34 L238.41,509.44 L241.15,507.69 L245,508 L248.03,506.49 L251.82,503.77 L254.81,501.35 L258,500 L260.66,498.46 L263.44,496.48 L265.63,493.86 L268,492 L270.41,489.36 L272.5,487.59 L275,485 L278.36,483.08 L280.54,479.91 L283,478 L284.79,474.04 L288,470 L287.46,465.52 L286,462 L285.83,458.36 L284,454 L281.97,450.05 L279.97,447.05 L277.5,444 L275.21,440.83 L273.65,437.84 L272.5,434 L272.63,429.59 L273,426 L273.64,422.93 L275,419 L277.09,416.02 L279.14,413.63 L281,410 L283.51,407.24 L285.64,404.87 L287.5,401.5 L289.47,398.81 L291,396 L292.65,392.45 L294.5,390 L296.85,386.42 L299,383.8 L301.18,381.42 L304.1,378.6 L308.5,377.63 L311.9,376 L315.65,374.96 L318.99,374.59 L322.2,373.5 L326.42,372.76 L329.9,370.9 L333.8,367 L336.89,365.15 L339.27,363.29 L342.41,362.5 L345.4,360.6 L347.83,357.85 L350.68,355.74 L353.1,354.1 L356.3,349 L356.29,345.08 L355,340 L357.6,338 L353.1,336.1 L351.8,333.5 L350.97,330.19 L352.62,326.24 L352.6,322.8 L351.8,319.3 L352.75,315.88 L354,313 L357,309 L359.37,306.13 L363,304.5 L365.88,302.23 L370,301.3 L376,299.5 L380,299.5 L383.79,300.44 L387,301.5 L390.08,302.52 L393.66,302.39 L397,303 L400.23,304.03 L403.43,304.37 L407,305 L410.67,306.22 L413,308.5 L416.58,310.4 L419.5,311.5 L422.75,310.43 L427,311 L430.76,310.77 L434.5,309 L438,305 L442,301.5 L446,298 L449.5,295 L455,292 L460,289.2 L464.34,288.13 L468.4,288.2 L471.52,285.69 L474.13,283.05 L475.9,279.9 L478.36,277.83 L481.04,274.37 L483.3,271.5 L488.9,268.7 L492.54,269.1 L496.4,269.6 L500.89,270.58 L503.8,272.4 L507.17,273.58 L510.56,274.8 L513.1,276.1 L516.18,278.95 L520.6,281.7 L523.44,284.77 L525.2,289.2 L526.06,292.07 L528.54,295.11 L530,298 L530.78,302.28 L532.86,305.86 L534,310 L534.96,313.28 L536.05,317.24 L538,320 L539.94,322.69 L542.22,325.42 L543.87,329.56 L546,332 L547.97,335.5 L550.83,337.24 L552.72,341.43 L555,344 L556.72,347.29 L559.91,349.68 L562.4,353.32 L565,356 L567.93,358.06 L570.66,359.25 L573.37,360.98 L576.23,362.26 L578.85,364.04 L581.1,366.87 L585.01,367.72 L587,370 L590.72,371.53 L593.53,374 L596.44,375.51 L599.58,376.22 L602.66,378.01 L606.48,380.05 L608.82,383.2 L612,384 L615.49,385.83 L617.87,388.23 L619.73,390.84 L622.47,392.94 L626,395 L628.16,397.65 L632.1,399.1 L634.08,401.25 L637.79,403.53 L640,406 L643.1,408.73 L646.4,410.36 L650,412 L653.13,412.58 L656,415 L658,421 L659.81,424.17 L660,427.5 L661.41,430.53 L664,434 L665.38,437.04 L667.5,440 L669,446 L670,451 L665,453 L660,454 L659,458 L659,462.5 L657,467 L654.5,471 L656,474 L659,475.5 L664,473 L667.5,470 L671,465 L673.15,462.64 L675,459 L676,454 L677.5,450 L682,447 L687.5,445 L689,441 L690,437.5 L689,433 L687.5,429 L684.91,426.09 L682,425 L679.11,423.88 L676,422.5 L674.5,417.5 L676.11,414.58 L677,411 L680,406 L680.64,403.07 L682.5,400 L686,397 L691,397 L696,400 L702,401 L707.5,402.5 L709,406 L711,410 L712,414 L714,417.5 L717,419 L720,418.5 L722.5,414 L723,410 L721,406 L719,402.5 L715,400 L712.5,400 L710,398.5 L708.02,395.25 L705,393 L703.16,390.55 L700,388.5 L697.79,386.02 L695,384 L690,381 L686.73,380.19 L683,378 L679.55,377.02 L676,376 L673.89,372.95 L671.43,370.3 L668,368 L665.73,363.98 L662.6,361.7 L660.9,358.4 L658.43,355.59 L655.56,353.3 L654,350 L651.76,347.48 L649.51,344.57 L646,342 L644.2,339.44 L640.57,338.21 L638.2,334.81 L635.24,333.25 L632.58,331.86 L630,329 L627.41,326.87 L624.94,325.28 L622.4,322.2 L619.59,321.17 L617.6,318.18 L614.61,316.53 L612,314 L609.08,310.52 L608.13,307.03 L605,304 L603.22,301.23 L599.82,298.03 L598,295 L595.62,292.31 L594.27,289.21 L591.29,287.96 L589.34,283.91 L587,282 L584.17,279.41 L583.04,276.84 L579.78,274.92 L578.18,272.58 L576,269.5 L574.89,265.44 L571.8,261.2 L572.7,255.7 L575.5,251.9 L573.62,248.82 L572.7,244.5 L569.9,239.8 L574.25,238.2 L578.3,235.2 L581.25,233.19 L584.35,231.44 L587.6,230.5 L591,229.72 L594.97,227.76 L598.8,225.9 L602.66,225.28 L607.2,224.9 L603,228 L601,232 L602.76,236.42 L603,240 L604.81,242.69 L606,246 L607.62,248.51 L610,251 L613,248 L616,243 L620,240 L622.45,241.55 L626,243 L630,247 L632.66,249.43 L635,251 L636,257 L637.33,260.54 L637.5,263.5 L640,268 L644,272 L646.29,274.17 L648.67,276.28 L651,279 L653.14,282.3 L656.57,285.14 L659,288 L661.01,290.34 L662.83,293 L665.56,295.04 L668,297.5 L670.76,300.08 L673.7,302.7 L677,304 L680.83,305.55 L685,308.5 L688.82,310.03 L692,313 L694.85,314.38 L696.76,316.98 L700,318.5 L702.96,320.95 L706.63,323.71 L710,325 L712.84,327.23 L716.5,329.94 L720,331 L722.82,332.14 L724.63,335.43 L728,337 L732.36,340.07 L735,343.5 L738.64,346.96 L741,350 L743.45,352.94 L745,356 L745,362 L744.29,365.15 L744.5,368.5 L744.2,371.52 L744.5,375 L744.11,378.95 L745,382 L745.72,385.8 L746,390 L746.75,394.78 L748.01,398.68 L750,402 L751.32,405.78 L754.09,408.66 L756,412 L758.78,415.04 L761,420 L762.03,423.69 L764.4,426.7 L767,432 L769.87,434.66 L771.7,437 L774,442 L777,447.5 L780,453 L783,458 L786,461 L789.4,463 L795,462.5 L801,462 L805.44,461.77 L809,462 L813.68,461.17 L817.5,462 L821.66,463.07 L826,465 L830.21,467.65 L834,468.3 L834,470 L829.52,471.69 L826,473.5 L821.4,472.43 L818,471.5 L814.38,470.71 L810,468.5 L805.22,467.11 L801.25,466.25 L797.83,467.96 L794,471 L788.3,473.5 L786.7,476.7 L787.3,480.8 L790.8,485 L794.6,489 L796.16,491.74 L797,495.4 L797.08,498.56 L798.75,501.7 L799,508 L803.3,511 L806,508 L809.6,504.8 L811.91,507.17 L813.75,510 L815.62,514.66 L816.9,518.3 L819,513 L821,509 L826,512.5 L827.7,515.99 L830.5,520 L830.33,515.59 L831.5,511 L828.69,507.89 L827.5,504 L825.2,499.6 L825,494 L826.25,489 L830,491 L834.6,494.4 L838,493 L840.8,491.25 L836,489 L832.5,487 L831,482 L830.4,477.7 L832,476.7 L836,472 L840,471 L842.77,472.14 L846.7,472.5 L850,477 L852.05,480.06 L855,483 L856,478.8 L855.36,474.59 L855,470.4 L851,466 L846.7,464 L842.15,463.23 L838,461 L834.39,460.16 L830,458 L826.91,454.73 L824,453 L819.6,449.6 L821.7,446.5 L827,445 L832,443.3 L830,439 L825.8,435 L830,433 L834,432 L831,427 L828,422.5 L826,419.61 L824,417 L821.7,412 L821.39,408.86 L821.5,405 L822.7,399.6 L825,396 L828,393.3 L830.93,395.61 L833,398 L835.89,401.09 L838.3,403.75 L840,408 L842.5,413 L844,408 L843,403 L846,401 L848.75,403.75 L851,408 L853,412 L854,407 L852,402 L850,398 L853,399 L856,402 L859,405 L858,400 L855,396 L852,392 L855.86,388.4 L858,385 L860.46,382.72 L861.92,379 L864,376 L867.65,373.44 L872,372 L875.06,371.37 L878.55,370.21 L882,370 L884.39,367.72 L887.99,367.31 L891,365 L894.03,364.58 L896.94,362.95 L900,361 L903.32,361.15 L906.84,358.92 L910,359 L913.87,359.47 L917.51,360.33 L921,361 L925.7,361.66 L929.14,363.18 L933,364 L937.33,361.92 L941,361 L943.83,358.87 L948,358 L952,362 L949.44,365.67 L948,370 L945.46,372.09 L941.9,375.27 L940,378 L937.61,380.19 L934.88,381.66 L932.32,383.92 L930,386 L927.63,388.8 L925,392 L927.24,394.42 L930,397 L933.92,398.79 L936.23,401.44 L940,403 L937.45,406.06 L935,408 L931.62,408.63 L927.63,408.66 L923.29,409.55 L920,410 L916.04,411.23 L911.94,411.61 L908,413 L906,415 L905,421 L904.8,426.7 L908.51,427.22 L912,427 L915.29,426.64 L919,425.42 L922.2,426.6 L926,425.4 L922,429 L919.7,431.9 L921,436 L922,439.6 L925,443 L927.4,446 L923,448 L919.7,450 L921,456 L923.36,458.26 L925,462 L923.38,464.82 L922,468 L925.79,470.81 L928,474 L926,480 L928.15,482.97 L932,486 L934.84,487.47 L938,490 L936.1,492.58 L934,496 L937.86,498.39 L942,500 L946.13,501.51 L950,503 L954.37,505.12 L958,506 L962.33,507.67 L965,510 L968.78,512.49 L972,514 L976,518 L980.4,522.5 L983.41,524.33 L986,526.75 L990.8,527.7 L996,528 L1002,526 L1005.48,523.55 L1008.5,521.75 L1009.65,518.91 L1011.7,516 L1011,510.5 L1013,508.5 L1016.86,508.53 L1021,508 L1024.23,508.14 L1028,510 L1032.47,510.74 L1036,513 L1039.36,514.78 L1042.53,516.35 L1046,516.75 L1048.53,519.83 L1051,522 L1053.81,525.06 L1056,528 L1061,530.5 L1066,531.75 L1070.09,530.93 L1074,530 L1077.63,528.7 L1081,528 L1085.33,527.76 L1089,526 L1092.46,524.52 L1096,524.25 L1100,521 L1103.5,518 L1107.32,517.78 L1112,516 L1115.65,515.93 L1118.3,517.63 L1122,518 L1125.45,519.76 L1128.06,522.41 L1132,524 L1134.63,526.79 L1135.82,530.18 L1138,534 L1139.42,537.46 L1140.52,541.44 L1141,545 L1141.83,549.47 L1141,553 L1140.43,556.47 L1140,560 L1139.87,563.93 L1139.75,568 L1138,573 L1136,578 L1134.45,582.32 L1134,586 L1133.73,589.89 L1132,593 L1130.53,596.1 L1129,600 L1126.82,603.9 L1126,608 L1123.94,611.46 L1123,616 L1122.06,619.74 L1121,623 L1119.89,626.18 L1117.76,628.63 L1117,632.5 L1115.42,635.18 L1115.78,638.86 L1114.55,642.21 L1112.33,645.04 L1111.23,648.6 L1111.04,651.7 L1110,655 L1106.89,657.43 L1103.78,657.6 L1101.23,660.52 L1097.66,660.72 L1094.63,663.67 L1091.08,664.84 L1087.51,666.09 L1085,668 L1000,672 L900,668 L896.95,667.09 L893.64,665.66 L890.3,665.38 L887.04,664.69 L885.06,662.44 L881.25,661.98 L878.66,660.37 L875.17,659.56 L873.03,658.3 L868.85,658.1 L865.97,657.73 L862.92,655.53 L860,655 L858.33,652.39 L855.1,650.93 L851.63,648.4 L849.66,645.39 L848.34,643.04 L845,641 L842.43,637.98 L838.62,635.61 L836,633 L832.21,630.91 L829.69,627.81 L826,626 L822.96,625.64 L818.44,625.32 L815.92,623.58 L812,623.5 L808.46,624.15 L804.54,624.17 L800,624.5 L796,625.17 L793.38,628 L789,629 L785.88,630.25 L782.05,632.38 L779.1,634.72 L775,636 L772.01,636.09 L768.77,636.11 L765.59,635.34 L762.46,635.63 L758.47,635.52 L755.92,636.62 L752.38,636.44 L748.65,636.53 L745.77,636.83 L742.67,635.75 L739.11,636.88 L736.09,635.82 L733.23,636.94 L729.72,637.49 L726.17,637.13 L723.15,636.55 L720,637 L716.87,637.32 L712.88,636.14 L709.77,636.03 L706.54,636.43 L703.69,636.77 L700.07,635.33 L696.49,636.38 L693.43,635.53 L690.27,635.49 L686.33,635.69 L683.83,634.96 L680,635 L676.96,633.9 L673.28,635.41 L669.63,635.06 L666.62,634.33 L663.54,633.92 L659.69,633.24 L656.91,633.4 L653.46,633.37 L650,633 L647.13,633.47 L643.68,632.47 L640.16,631.68 L637.19,631.74 L633.73,631 L630.06,630.86 L626.91,631.21 L624,630.5 L619.65,631.01 L616.12,630.49 L612,629.5 L607.99,629.02 L603.23,629.03 L599.5,628 L595,627.67 L591.33,627.46 L587,626.5 L583.35,625.32 L578.73,624.56 L574.5,624 L570.67,622.58 L567.17,622.59 L564,621.5 L560.81,620.42 L557.59,618.24 L554.5,618 L551.37,616.91 L549,614.5 L544.5,610.5 L541,607 L537,603 L532,602 L527,600.5 L523,597 L519.5,593 L519.5,589 L521,585.5 L523.24,582.36 L526,581 L528.8,577.85 L532,575.5 L533.92,572.8 L535.97,570.4 L538,567 L539.84,564.41 L541.63,561.72 L543,558 L544,552 L543.81,548.23 L544.5,545.5 L541,543 L537,540.5 L535.14,537.77 L533,535 L531.5,531.89 L531,528 L533.02,524.93 L534,522 L537,517 L540,513 L542.43,509.96 L545,508 L546.19,503.51 L548,499 L545,498 L541.91,497.41 L538.81,495.98 L535,496 L532.03,496.74 L528.35,496.9 L525,497 L521.91,498.5 L516.91,497.91 L513.48,498.59 L510,500 L505.68,501.14 L502.48,502.03 L498,503 L495,504.81 L491,506 L487.82,506.04 L484.5,508 L480.02,507.83 L476,508.5 L471.49,509.12 L467,508 L461,506 L457.65,505.39 L454.5,503 L450,505 L444.5,507 L440.89,506.66 L438,505.5 L435.35,504.33 L432,503 L428.68,505.31 L425,506 L420.51,507.03 L417,509 L412,512 L407,515 L403,514 L399.5,512 L395.32,510.5 L391,510 L386.07,508 L382,508 L378.35,507.98 L373.67,507.02 L370,507.5 L366.85,506.84 L363.08,508.24 L360.39,507.14 L357,508 L353.27,509.43 L350.43,511.44 L347,512 L343.46,514.15 L340.01,514.83 L337,515.5 L333.57,516.39 L329.04,515.74 L325,516.5 L321.28,516.93 L318.52,517.75 L315.59,517.59 L312,518.5 L308.31,520.29 L305,521 L301.1,522.75 L297.5,524 L294.71,526.35 L292.26,528.33 L290,530 L286.02,533.22 L282.5,535.5 L278.12,536.91 L274,538 L270.15,539.94 L265,540.5 L261.72,541.44 L258,544 L253.7,546.24 L250,548 L247.53,550.05 L243.83,552.38 L241,554 L237.82,555.9 L235.38,556.79 L232.5,559 L229.51,560.39 L226,562 L220,561 L216.72,560.16 L212.5,560 L210,559 L207.5,557 L204,555.5 L200,555.5 L196.48,556.51 L193.62,556.48 L190,557 L186.78,557.92 L183.16,557.72 L180,558 L175.82,558.4 L172,557.5 L167.88,556.84 L165,555.5 L160,552.5 L157.53,550.07 L155,548 L153,544 L150,539 L146.71,538.59 L143,540 L140.16,542.08 L136,543 L135.48,547.3 L134,551 L134.33,554.48 L132.5,556.99 L132.5,560.5 L130.41,564.84 L129,569 L127.67,572.19 L125.67,575 L125,578 L123.16,580.8 L120.97,582.77 L119.54,585.72 L117,588 L115.56,590.74 L111.96,592.22 L109.06,595.19 L107.5,598 L104.6,599.93 L101.61,600.94 L99.08,602.3 L95.83,604.22 L93,605 L89.87,607.77 L86.9,609.26 L83.29,610.98 L80,613 L77.32,615.09 L75.19,617.62 L72.83,620.28 L70,623 L67.69,625.95 L64.51,627.77 L62.28,629.36 L60,632.5 L58.1,634.94 L55.24,637.91 L54.18,641.02 L51.98,643.99 L49.4,646.32 L47.3,648.48 L46.19,652.25 L43.53,654.35 L41.45,656.72 L40,660 L40.61,662.87 L39.25,666.35 L40.38,669.51 L39.89,673.38 L39.12,676.44 L40.44,680.13 L40.81,682.83 L39.29,686.91 L39.3,690.02 L40.03,692.92 L40.75,696.89 L40.61,699.97 L39.49,703.33 L39.33,706.69 L39.79,710.46 L39.97,713.42 L40.12,716.51 L40,720 L1320,720 L1320,100ZM989.75,205 L989.63,208.29 L989.56,211.42 L989.32,215.32 L989.79,218.39 L989.78,221.93 L990,225 L990.49,229.53 L991.5,233.81 L991,237.5 L989.69,240.47 L989.05,243.41 L989,247 L987.54,251.11 L987,256 L981,258 L976,260 L974.08,262.28 L971.63,264.56 L970,268 L967.79,271.9 L966,275 L964.45,279.21 L964,284 L963.08,288.35 L963.5,292.5 L966,297 L968.5,300 L970.3,303.64 L971.53,306.24 L972,310 L972.76,314.19 L973.12,317.35 L975.16,321.47 L975,325 L973.89,328.45 L973.15,332.86 L972.26,335.95 L972,340 L971.5,344.05 L969.89,346.96 L968.51,351.22 L968,355 L967.04,358.44 L967.14,362.56 L966,366 L968.2,368.43 L970,371 L973.5,372.5 L977.69,373.16 L980.75,374.14 L985,374.5 L988.22,375.46 L991.86,375.06 L994.66,376.6 L998.5,376.25 L1002.07,375.82 L1006.3,376.45 L1010,377 L1013.33,378.02 L1017.24,377.08 L1021,377.5 L1024.3,376.37 L1028,374 L1030.96,372.62 L1033.5,370 L1036.29,367.53 L1040.57,366.19 L1043,364 L1045.66,361.53 L1050.05,359.45 L1053.5,357.5 L1056.79,355.41 L1060.09,354.89 L1064,353.5 L1067.6,351.66 L1071.5,350.86 L1076,350 L1079.4,350.65 L1083.09,349.34 L1085.86,350.22 L1089.82,349.14 L1093,349.5 L1096.44,348.93 L1099.89,350.32 L1104.03,350.53 L1107.62,350.55 L1111,350 L1115,348.5 L1118.5,347.5 L1120.75,350.7 L1123,353 L1125.62,355.82 L1128.5,360 L1132.61,359.7 L1136,360.5 L1140.19,360.19 L1143.5,361.25 L1147,366 L1148.83,368.35 L1151,371.25 L1154.76,371.42 L1158,372.5 L1161.89,373.48 L1166,373.75 L1169.89,374.62 L1173,376 L1176.73,378.17 L1181,378.75 L1185.76,380.16 L1190,380.5 L1194.64,381.66 L1198.5,382 L1202.11,381.77 L1205.27,380.09 L1208.47,380.64 L1212,380 L1216.16,380.04 L1219.52,379.12 L1222.45,378.5 L1226,377.5 L1228.99,376.76 L1233.15,376.6 L1235.75,375.85 L1239.28,376.18 L1242.41,375.12 L1246.34,374.5 L1249.72,375.43 L1253.18,374.75 L1257,374.42 L1259.67,373.65 L1263.44,372.37 L1266.33,372.7 L1270,372 L1270,300 L1266.97,299.86 L1263.71,298.65 L1260.31,298.06 L1257.01,297.63 L1253.79,295.77 L1250.6,295.59 L1247.78,294.61 L1244.96,294.15 L1240.86,294.24 L1238.43,292 L1235.11,292.15 L1232.22,291.31 L1229.16,290.74 L1225.5,290 L1222.96,287.21 L1221.15,285.14 L1218.49,282.64 L1216,280 L1211.59,277.48 L1208,275 L1204.85,272.31 L1201,270 L1198.69,267.49 L1195.9,265.99 L1193,264 L1189.32,262.06 L1186,260 L1181,258.5 L1176,257.5 L1173.43,255.38 L1172.37,252.53 L1170,250 L1167.34,247.85 L1166,245 L1161,246 L1156,243.75 L1151,245 L1145,246.5 L1141.85,247.66 L1138.5,247.5 L1133,246.5 L1128.5,246.25 L1124,250 L1121,253.75 L1117.35,255.54 L1114,255.5 L1108.5,257.5 L1105.93,260.63 L1103,262 L1098.5,266.25 L1093,268.5 L1088.5,269.5 L1084,266.5 L1079.75,263.75 L1082,260.5 L1083.5,257.5 L1082.5,252 L1081,247.5 L1077.85,245.55 L1076,243 L1071,240 L1067.48,239.44 L1064,239 L1058.5,237.5 L1059.95,235.12 L1062,232 L1065.24,230.21 L1068,227.5 L1071.26,225.12 L1076,222.5 L1075.72,218.59 L1077.1,215.54 L1076.88,211.7 L1077.16,208.68 L1078,205ZM1116,205 L1115.52,208.79 L1115.74,212.14 L1115.47,215.36 L1115.89,218.89 L1116,222.5 L1118.5,225 L1122,230 L1124.95,232.34 L1126,235 L1130,237.5 L1133.5,238.75 L1138,236.5 L1143.5,235 L1149,236 L1153.5,237.5 L1157,240.5 L1161,237.5 L1164.41,237.81 L1167.17,236.63 L1171,237.5 L1176,235 L1181,232.5 L1184,227 L1186,222.5 L1185.93,218.96 L1185.51,215.75 L1186.29,212.31 L1185.78,208.37 L1186,205ZM952,399 L958,395 L962,392 L967,386 L972.5,381.6 L976.4,383 L982.8,386.8 L990,388 L997,388.7 L990,390 L982.8,390.6 L972.5,393.9 L970,396.4 L977.7,397.7 L975.7,401 L963.5,400.3Z" fill="#fff" fill-rule="evenodd"/>
<path d="M952,399 L958,395 L962,392 L967,386 L972.5,381.6 L976.4,383 L982.8,386.8 L990,388 L997,388.7 L990,390 L982.8,390.6 L972.5,393.9 L970,396.4 L977.7,397.7 L975.7,401 L963.5,400.3Z" fill="#c8cdd5"/>
<path d="M621,239 L626,238 L630,243 L633,250 L631,255 L627,249 L623,245 Z M634,246 L638,249 L641,256 L639,260 L636,254 Z M642,262 L646,265 L649,271 L645,269 Z" fill="#b3b9c7"/>
<path d="M505,316.7 L503,322 L501.7,326.7 L496,328 L491.7,330 L488,333 L485.4,336.7 L486.57,340.83 L487.2,344.4 L486.1,350 L488.04,353.42 L490.6,357.8 L491.72,361.72 L493.9,364.4 L497,367 L500.6,367.8 L505,369 L509,365 L510.13,361.63 L509.94,358.53 L511,355 L510.24,351.97 L511.01,348.08 L511.63,345.17 L511,342 L511.04,338.31 L509.7,333.83 L509,330 L508.7,325.2 L507,322Z" fill="#fff"/>
<path d="M868,470 L872,472 L875,477 L872,479 L868,475Z" fill="#fff"/>
<path d="M877,482 L881,484 L882,488 L878,487Z" fill="#fff"/>
<path d="M880,496 L885,495 L887,500 L883,503 L879,500Z" fill="#fff"/>
<path d="M862,488 L866,489 L866,493 L862,492Z" fill="#fff"/>
<path d="M870,505 L874,506 L873,510 L869,509Z" fill="#fff"/>
<path d="M860,520 L864,521 L863,524 L859,523Z" fill="#fff"/>
<path d="M886,518 L891,519 L890,523 L885,522Z" fill="#fff"/>
<path d="M928,520 L933,518 L936,522 L931,525Z" fill="#fff"/>
<path d="M925,538 L928,540 L928.11,544.35 L928.22,547.57 L927,552 L924,548 L925.22,544.32 L925.52,541.61Z" fill="#fff"/>
<path d="M888,430 L892,431 L891,435 L887,434Z" fill="#fff"/>
<path d="M868,436 L872,437 L873,441 L869,440Z" fill="#fff"/>
</g>
<g clip-path="url(#mapclip2)" fill="none" stroke="#cdd1dc" stroke-width="1.3" stroke-linejoin="round" stroke-linecap="round">
<path d="M463,132.5 L459.5,147.5 L461,160 L448,165 L442,177.5 L434.5,182.5 L432,192.5 L426,200 L426,207.5 L429.5,200 L439.5,201 L443,210 L448,220"/>
<path d="M461,160 L479.5,157.5 L484.5,154 L493,156 L502,159 L509.5,166 L507,177.5 L514,181 L522,185 L529.5,182.5 L532,194"/>
<path d="M509.5,166 L517,161 L526,167.5 L529.5,161 L537,163 L544.5,166 L553,163 L562,160 L572,156 L580,158 L587,160 L593,157.5 L590,150 L586,144 L589.5,137.5 L601,132.5"/>
<path d="M606,199 L607.5,199 L622.5,200 L635,195 L650,192.5 L668.75,185 L672.5,180 L675,157.5 L690,145"/>
<path d="M683.75,132.5 L690,145 L713.75,155"/>
<path d="M668.75,185 L671,191 L675,197.5 L692.5,215 L705,221 L722.5,222.5 L731,222.5"/>
<path d="M671,197.5 L657.5,206 L652.5,220 L645,234 L630,230 L607.5,234 L603,232"/>
<path d="M656,243.5 L670,245 L685,241 L700,245 L715,247 L730,250 L732.5,253.5 L737.5,263.5 L745,276 L746,286 L741,293.5 L735,298.5 L727.5,306 L722.5,316 L724,326"/>
<path d="M656,243.5 L659,256 L667.5,268.5 L677.5,283.5 L690,298.5 L700,308.5 L710,318.5 L720,326"/>
<path d="M731,222.5 L735,236 L742.5,245 L737.5,263.5"/>
<path d="M724,326 L732.5,303.5 L740,300 L750,308.5 L760,313.5 L767.5,318.5 L760,326 L761,331 L747.5,333.5 L744,343.5 L746,356"/>
<path d="M773.75,222.5 L777.5,226 L785,236 L794,241 L795,253.5 L810,263.5 L820,262 L822.5,273.5 L829,286 L847.5,292"/>
<path d="M822.5,273.5 L815,286 L819,298.5 L829,311 L822.5,321 L816,326 L817.5,336 L822.5,343.5 L829,351 L830,366 L831,371"/>
<path d="M767.5,318.5 L775,313.5 L785,315 L795,323.5 L800,328.5 L797.5,336 L785,341 L775,346 L772.5,341 L761,331"/>
<path d="M775,346 L771,358.5 L772.5,371 L777.5,381 L784,388.5"/>
<path d="M800,336 L810,338.5 L817.5,336"/>
<path d="M761,331 L770,343.5 L771,358.5"/>
<path d="M953.5,222.5 L954.3,233 L959.5,240.6 L968.6,242 L983.6,234.5 L991,237.6"/>
<path d="M965.6,222.5 L955,232.3"/>
<path d="M1156,243.75 L1161,246 L1166,245 L1170,250 L1176,257.5 L1181,258.5 L1186,260 L1193,264 L1201,270 L1208,275 L1216,280 L1225.5,290"/>
<path d="M1186,222.5 L1184,227 L1181,232.5 L1176,235 L1171,237.5 L1161,237.5 L1157,240.5 L1153.5,237.5"/>
<path d="M1076,222.5 L1068,227.5 L1062,232 L1058.5,237.5 L1064,239 L1071,240 L1076,243 L1081,247.5 L1082.5,252 L1083.5,257.5"/>
<path d="M226,562 L236,573 L237.5,593 L242.5,618 L251,632"/>
<path d="M484.5,509 L476,519 L479.5,522 L477,543 L479.5,555.5 L476,573 L464.5,585.5 L459.5,593 L463,610.5 L477,623 L479,632"/>
<path d="M554.5,615.5 L554,632"/>
<path d="M1141,574 L1152,574 L1156,583 L1148.5,595.5 L1141,603 L1138.5,613 L1126,618"/>
<path d="M1138.5,613 L1139.75,628 L1131,633 L1119.75,640.5 L1119,646"/>
<path d="M1131,633 L1140,634 L1145,640 L1154,644"/>
<path d="M1173.5,632.5 L1226,601"/>
<path d="M1212,609 L1218.5,632.5"/>
<path d="M1172,515.5 L1183,510.5 L1194.75,506 L1200,509.5 L1206,513 L1226,513.5"/>
</g>
<g clip-path="url(#mapclip)">
<path d="M62,306 L65.64,304.84 L68.39,302 L72,300 L75.75,299.55 L78.87,297.96 L83.08,298.02 L85.91,296.15 L90,296 L93.69,296.05 L96.47,296.21 L100.17,296.53 L103.47,296.84 L106.44,296.3 L109.66,295.9 L113.04,295.45 L116.18,295.17 L120,296 L123.04,296.97 L126.86,295.85 L130.5,296.06 L133.78,295.94 L136.89,297.24 L140.44,296.02 L143.57,297.29 L146.94,296.03 L149.99,296.29 L153.63,296.92 L156.94,297.77 L160,297 L163.84,296.33 L166.58,296.58 L169.57,297.78 L172.89,296.96 L177.08,297.59 L180.34,297.17 L183.01,298.68 L186.55,298.65 L190.49,298.18 L193.29,298.85 L197.08,298.43 L200,299 L204,299.4 L206.72,299.46 L210.06,299.42 L214.27,299.53 L217.13,300.16 L220.91,300.1 L224.43,300.29 L227.97,299.11 L231.26,299.09 L235,300 L238.63,298.63 L242.13,298.61 L244.96,297.76 L248.23,297.14 L252,297 L253.6,301.15 L256,305 L257.15,308.97 L258,312 L259.1,315.3 L259.7,319.3 L264.2,322.6 L269.3,321.9 L273.8,323.2 L276.4,326.4 L280.27,326.26 L283.5,325.8 L286.1,327.1 L290.04,326.23 L293.8,325.8 L295.1,321.3 L298.61,322.68 L301.6,323.2 L306.45,324.05 L310.6,325.8 L312.87,329.46 L313.2,332.9 L317.33,332.96 L320.9,334.2 L324.27,333.93 L327.3,334.8 L331.16,335.45 L333.84,335.31 L337.7,336.7 L341.52,336.37 L344.67,335.02 L348,335.4 L353.1,336.1 L357.6,338 L355,340 L356.29,345.08 L356.3,349 L353.1,354.1 L350.68,355.74 L347.83,357.85 L345.4,360.6 L342.41,362.5 L339.27,363.29 L336.89,365.15 L333.8,367 L329.9,370.9 L326.42,372.76 L322.2,373.5 L318.99,374.59 L315.65,374.96 L311.9,376 L308.5,377.63 L304.1,378.6 L301.18,381.42 L299,383.8 L296.85,386.42 L294.5,390 L292.65,392.45 L291,396 L289.47,398.81 L287.5,401.5 L285.64,404.87 L283.51,407.24 L281,410 L279.14,413.63 L277.09,416.02 L275,419 L273.64,422.93 L273,426 L272.63,429.59 L272.5,434 L273.65,437.84 L275.21,440.83 L277.5,444 L279.97,447.05 L281.97,450.05 L284,454 L285.83,458.36 L286,462 L287.46,465.52 L288,470 L284.79,474.04 L283,478 L280.54,479.91 L278.36,483.08 L275,485 L272.5,487.59 L270.41,489.36 L268,492 L265.63,493.86 L263.44,496.48 L260.66,498.46 L258,500 L254.81,501.35 L251.82,503.77 L248.03,506.49 L245,508 L241.15,507.69 L238.41,509.44 L234.64,509.34 L231.36,508.84 L228.19,509.14 L225,510 L221.41,509.73 L218.02,509.65 L215,510.35 L210.7,510.52 L207.26,510.67 L204,511 L200.1,510.88 L196.48,511.15 L193.81,512.33 L190,512 L185.44,512.87 L181,512.5 L176.06,512.68 L172.5,514 L168.69,514.3 L166,516 L163.29,518.04 L160,519 L155,522 L152.96,524.12 L151,527 L148.92,529.61 L147.5,533.5 L143,532 L137.5,529 L135.23,526.19 L132.5,524 L130,519.82 L127.5,517 L126.74,514.11 L125.75,510.56 L124,508 L121.11,504.5 L117.81,502.47 L115,500.5 L111.72,500.58 L108,499 L103.58,498.52 L100,498 L100.01,493.42 L101.32,489.24 L101,485.5 L104,480 L107.5,475.5 L109.02,472.06 L111,468 L110,462 L107.46,459.52 L105,456.5 L106.9,453.96 L109,451 L112.5,446.5 L110,442 L107.5,439 L105.43,435.25 L104,432 L103.27,428.62 L102.5,425 L108,424 L114,423 L114.95,419.16 L115,414 L115.9,411.16 L116.37,407.17 L116,404 L116.35,400.4 L116.07,396.86 L116,394 L116.72,390.47 L116.33,387.72 L116,384 L113.78,379.85 L113,375 L110.67,372.38 L110.05,368.79 L108,366 L105.36,363.4 L102.22,360.63 L100,358 L97.55,355.89 L95.25,353.87 L92,352 L88.67,348.8 L85,346 L82.5,343 L79.09,344.18 L75,345 L70.98,345.88 L67.5,348 L65.77,344.73 L65,340 L64.32,336.65 L62.95,333.46 L61,331 L60.53,326.59 L60,322 L58.53,317.66 L58,313 L60.47,310.17ZM460,289.2 L461.64,285.07 L461.9,281.7 L458.47,280.67 L455.9,278.59 L453,277.5 L449.14,276.25 L445.1,274.3 L446.44,270.19 L447.78,267.05 L447.9,263.1 L447.51,257.97 L447,253.8 L444.1,251.55 L442.91,249.03 L440.5,246.4 L442.21,243.44 L443,240 L442.44,235.42 L441,232 L443.31,229.08 L444,226 L446.52,223.55 L449.8,220.3 L453.26,219.9 L456.38,220.14 L459.29,218.65 L462.8,218.4 L465.19,216.19 L468.2,215.23 L471.53,213.25 L474,211.9 L476.01,209.17 L477.85,206.26 L479.6,203.5 L482.25,206.74 L483.3,210 L486.3,211.45 L488.9,213.8 L491.7,219.3 L496.4,220.3 L497.68,216.76 L498.2,212.8 L500.57,209.82 L501.9,207.2 L502.88,203.3 L502.9,199.8 L505.7,200.7 L507.5,206.3 L510.81,205.1 L515,204.5 L518.98,203.15 L522.4,202.6 L521.5,197.9 L525.12,196.73 L528.47,196.54 L531.7,195.1 L531.46,192.14 L530.8,188.6 L534.7,188.37 L539.2,188.6 L542.63,187.14 L547.19,185.3 L550.4,184 L554.58,184.18 L557.59,182.97 L561.5,182.1 L564.67,180.43 L569,180.2 L569.35,183.31 L570.8,186.8 L573.61,188.52 L577.16,189.55 L580.1,192.3 L583.89,192.91 L587.14,193.89 L589.84,195.56 L593.2,196.1 L596.79,195.97 L599.36,197.09 L602.88,198.4 L606.2,198.9 L604.33,201.65 L601.6,204.5 L604.4,210 L602.94,214.08 L602.5,218.4 L605.17,222.16 L607.2,224.9 L602.66,225.28 L598.8,225.9 L594.97,227.76 L591,229.72 L587.6,230.5 L584.35,231.44 L581.25,233.19 L578.3,235.2 L574.25,238.2 L569.9,239.8 L572.7,244.5 L573.62,248.82 L575.5,251.9 L572.7,255.7 L571.8,261.2 L574.89,265.44 L576,269.5 L578.18,272.58 L579.78,274.92 L583.04,276.84 L584.17,279.41 L587,282 L589.34,283.91 L591.29,287.96 L594.27,289.21 L595.62,292.31 L598,295 L599.82,298.03 L603.22,301.23 L605,304 L608.13,307.03 L609.08,310.52 L612,314 L614.61,316.53 L617.6,318.18 L619.59,321.17 L622.4,322.2 L624.94,325.28 L627.41,326.87 L630,329 L632.58,331.86 L635.24,333.25 L638.2,334.81 L640.57,338.21 L644.2,339.44 L646,342 L649.51,344.57 L651.76,347.48 L654,350 L655.56,353.3 L658.43,355.59 L660.9,358.4 L662.6,361.7 L665.73,363.98 L668,368 L671.43,370.3 L673.89,372.95 L676,376 L679.55,377.02 L683,378 L686.73,380.19 L690,381 L695,384 L697.79,386.02 L700,388.5 L703.16,390.55 L705,393 L708.02,395.25 L710,398.5 L712.5,400 L715,400 L719,402.5 L721,406 L723,410 L722.5,414 L720,418.5 L717,419 L714,417.5 L712,414 L711,410 L709,406 L707.5,402.5 L702,401 L696,400 L691,397 L686,397 L682.5,400 L680.64,403.07 L680,406 L677,411 L676.11,414.58 L674.5,417.5 L676,422.5 L679.11,423.88 L682,425 L684.91,426.09 L687.5,429 L689,433 L690,437.5 L689,441 L687.5,445 L682,447 L677.5,450 L676,454 L675,459 L673.15,462.64 L671,465 L667.5,470 L664,473 L659,475.5 L656,474 L654.5,471 L657,467 L659,462.5 L659,458 L660,454 L665,453 L670,451 L669,446 L667.5,440 L665.38,437.04 L664,434 L661.41,430.53 L660,427.5 L659.81,424.17 L658,421 L656,415 L653.13,412.58 L650,412 L646.4,410.36 L643.1,408.73 L640,406 L637.79,403.53 L634.08,401.25 L632.1,399.1 L628.16,397.65 L626,395 L622.47,392.94 L619.73,390.84 L617.87,388.23 L615.49,385.83 L612,384 L608.82,383.2 L606.48,380.05 L602.66,378.01 L599.58,376.22 L596.44,375.51 L593.53,374 L590.72,371.53 L587,370 L585.01,367.72 L581.1,366.87 L578.85,364.04 L576.23,362.26 L573.37,360.98 L570.66,359.25 L567.93,358.06 L565,356 L562.4,353.32 L559.91,349.68 L556.72,347.29 L555,344 L552.72,341.43 L550.83,337.24 L547.97,335.5 L546,332 L543.87,329.56 L542.22,325.42 L539.94,322.69 L538,320 L536.05,317.24 L534.96,313.28 L534,310 L532.86,305.86 L530.78,302.28 L530,298 L528.54,295.11 L526.06,292.07 L525.2,289.2 L523.44,284.77 L520.6,281.7 L516.18,278.95 L513.1,276.1 L510.56,274.8 L507.17,273.58 L503.8,272.4 L500.89,270.58 L496.4,269.6 L492.54,269.1 L488.9,268.7 L483.3,271.5 L481.04,274.37 L478.36,277.83 L475.9,279.9 L474.13,283.05 L471.52,285.69 L468.4,288.2 L464.34,288.13ZM475.5,385 L477,388.5 L480.85,387.32 L483.9,386.7 L487.14,384.55 L491.7,382.2 L494.43,378.76 L497.2,376.7 L502.8,374.4 L506.1,378.9 L507.61,382.67 L509.4,386.7 L511.03,391.77 L512.3,395.6 L511.23,399.63 L511.5,403.17 L511.7,406.7 L510.49,411.01 L510.6,415.6 L510.73,419.23 L511.62,423.15 L511.7,426.7 L511.06,431 L510.33,433.89 L509.4,437.8 L503.9,438.9 L498.3,437.8 L495.43,440.55 L493.9,444.4 L488.3,445.6 L485.58,444.39 L482.8,442.2 L482.33,438.2 L481,433.3 L481.93,429.59 L481.84,425.6 L482.8,422.2 L482.17,418.17 L480.6,413.3 L481.57,410.52 L481.7,406.7 L480.59,401.9 L478.3,397.8 L478.11,394.59 L476.5,391ZM592,470 L596.31,469.4 L600,469 L603.25,470.52 L606,471.5 L609.16,473.2 L612.5,474 L616.24,472.78 L621,472.5 L625.68,471.06 L630,471 L633.89,469.36 L638,469 L641.74,468.74 L645,467 L650.5,466 L649.34,470.12 L648,473 L647.08,476.51 L646,480 L644.48,483.41 L643,486 L642.72,489.53 L641,492.5 L642.4,495.09 L642.5,499 L644,505 L642,509 L640,512.5 L635,511.5 L630,510 L626.96,507.6 L623,505 L619.9,503.2 L617.5,500 L614.43,498.97 L611,497 L605,495 L600.76,492.38 L597.5,490 L595.09,487.59 L592,486 L588.27,483.84 L585,482 L581.27,479.38 L578,478 L575,473 L578,469 L581.64,468.45 L585,468 L588.91,469.09ZM783,390.2 L786,388 L790.4,386 L794.25,384.61 L797,382.5 L800.48,381.69 L803,379.8 L807.47,378.27 L812,378 L815.61,378.24 L818.7,377.35 L821.7,376.7 L824.65,375.55 L828,374 L831.21,372.06 L834,371.5 L837.55,368.84 L841.52,367.73 L845,366 L848.59,364.97 L851.21,362.8 L854.74,361.84 L858,360 L861.99,359.94 L865.47,358.81 L868.33,358.33 L872,358 L874.96,356.69 L878.41,355.44 L882.54,354.26 L886,354 L889.63,353.53 L892.4,351.42 L896.41,351.33 L900,350 L903.74,349.66 L907.78,349.03 L910.88,348.3 L915,348 L918.74,348.63 L922.18,349.24 L926.57,350.22 L930,350 L933.96,350.83 L936.19,353.2 L940,354 L940.3,357.01 L941,361 L937.33,361.92 L933,364 L929.14,363.18 L925.7,361.66 L921,361 L917.51,360.33 L913.87,359.47 L910,359 L906.84,358.92 L903.32,361.15 L900,361 L896.94,362.95 L894.03,364.58 L891,365 L887.99,367.31 L884.39,367.72 L882,370 L878.55,370.21 L875.06,371.37 L872,372 L867.65,373.44 L864,376 L861.92,379 L860.46,382.72 L858,385 L855.86,388.4 L852,392 L855,396 L858,400 L859,405 L856,402 L853,399 L850,398 L852,402 L854,407 L853,412 L851,408 L848.75,403.75 L846,401 L843,403 L844,408 L842.5,413 L840,408 L838.3,403.75 L835.89,401.09 L833,398 L830.93,395.61 L828,393.3 L825,396 L822.7,399.6 L821.5,405 L821.39,408.86 L821.7,412 L824,417 L826,419.61 L828,422.5 L831,427 L834,432 L830,433 L825.8,435 L830,439 L832,443.3 L827,445 L821.7,446.5 L819.6,449.6 L824,453 L826.91,454.73 L830,458 L834.39,460.16 L838,461 L842.15,463.23 L846.7,464 L851,466 L855,470.4 L855.36,474.59 L856,478.8 L855,483 L852.05,480.06 L850,477 L846.7,472.5 L842.77,472.14 L840,471 L836,472 L832,476.7 L830.4,477.7 L831,482 L832.5,487 L836,489 L840.8,491.25 L838,493 L834.6,494.4 L830,491 L826.25,489 L825,494 L825.2,499.6 L827.5,504 L828.69,507.89 L831.5,511 L830.33,515.59 L830.5,520 L827.7,515.99 L826,512.5 L821,509 L819,513 L816.9,518.3 L815.62,514.66 L813.75,510 L811.91,507.17 L809.6,504.8 L806,508 L803.3,511 L799,508 L798.75,501.7 L797.08,498.56 L797,495.4 L796.16,491.74 L794.6,489 L790.8,485 L787.3,480.8 L786.7,476.7 L788.3,473.5 L794,471 L797.83,467.96 L801.25,466.25 L805.22,467.11 L810,468.5 L814.38,470.71 L818,471.5 L821.4,472.43 L826,473.5 L829.52,471.69 L834,470 L834,468.3 L830.21,467.65 L826,465 L821.66,463.07 L817.5,462 L813.68,461.17 L809,462 L805.44,461.77 L801,462 L795,462.5 L789.4,463 L786,461 L783,458 L780,453 L777,447.5 L774,442 L771.7,437 L769.87,434.66 L767,432 L764.4,426.7 L764,422 L765.77,418.51 L768.5,414 L769.95,411.05 L770.22,407.32 L772,405 L775.62,401.46 L778,398 L780.45,394.28ZM830,447.5 L834,444.4 L836.98,446.51 L839.34,447.58 L842.5,449.6 L846.09,452.32 L849.81,454.07 L853,455.8 L854.72,459.15 L856.82,461.81 L859,464 L860.99,466.71 L863.22,468.45 L865.4,471.5 L866.5,473.5 L863.34,472.91 L860,470.4 L857.99,467.61 L854.95,464.75 L853,462 L848.75,459.47 L844.6,458 L840.78,455.81 L838.13,452.98 L835,451.7 L832.78,449.45ZM844,552.7 L847,549.6 L852,549.2 L857.5,549.6 L861.7,553.3 L865.23,552.15 L870,552.5 L874.31,551.98 L878.3,551.7 L882.27,552.58 L886,553 L890.03,554.93 L894,555.4 L899,559 L903,558 L907.5,558 L908,560 L907.5,561.7 L903.54,561.57 L899,562 L893,563 L888.95,563.41 L884,563.8 L880.71,564.13 L877.47,563.2 L874,564 L872,560.93 L870,559 L866.64,558.87 L863,557.8 L857.5,557 L854.51,556.34 L851,556.5 L846,555.8ZM953.3,521.5 L955.4,524.6 L952,529 L949,533 L945,535 L944.6,528.75 L948,524.6ZM897.7,437 L903,434 L908,431.9 L912.6,434.5 L915.03,437.08 L915.8,440.3 L913.9,444.1 L910.27,443.59 L906.8,442.8 L901.6,440.3ZM1053.5,564.25 L1058.5,560.5 L1061.53,560.45 L1065.24,558.55 L1068.5,558.5 L1068.5,554.25 L1072.87,553.37 L1077,553.5 L1081.14,553.82 L1086,553 L1089.49,552.64 L1093,550.5 L1096.62,549.19 L1099.75,547.5 L1096,551.5 L1093.5,554.25 L1091,559.25 L1093.5,563 L1089.56,564.07 L1086,564.25 L1081,568 L1075,570 L1071,571.75 L1068.5,574.25 L1063,572 L1058.5,570.5 L1055,567.5ZM337,425 L340.13,422.2 L343,420.5 L346.56,419.05 L349.5,416 L351.76,417.92 L354.5,420 L357.1,421.75 L361,423 L358.5,427.5 L356,431.5 L353.15,430.86 L349.5,432 L347.11,429.79 L344.5,428 L340.76,426.09ZM371,412.5 L374,410.5 L379,411 L382.5,414.5 L381,417 L376,415.5ZM311,444.5 L314,442 L318,441.5 L318.5,444.5 L315,447 L312,447.5ZM752,418 L754,419.5 L756,424 L757.5,428.75 L755,427 L752.5,422ZM771.5,447 L773.5,448 L773.5,452 L771.5,451ZM768,463.5 L772,464 L773,468 L770,469 L768,467ZM775.5,478 L778,479 L778.5,482 L776,481.5ZM880.5,413.5 L885,413 L885.5,416 L881,416ZM888,499 L891,498.5 L891.5,504 L888.5,505ZM881.5,501.5 L883.5,501.5 L883.5,504 L881.5,504ZM863.5,512 L866,512 L866,514 L863.5,514ZM829.5,525.5 L831.5,525.5 L831.5,528 L829.5,528Z" fill="#f5a823" stroke="#fffaf2" stroke-width="3" stroke-linejoin="round" paint-order="stroke"/>
<path d="M1068.5,558.5 L1080,560 L1093.5,563" fill="none" stroke="#fff" stroke-width="1.2"/>
<rect x="1205" y="132" width="22" height="501" fill="url(#fadeR)"/>
</g>
<rect x="1227" y="120" width="21" height="530" fill="#fff"/>
<rect x="120" y="632.5" width="1107" height="0.8" fill="#f3f3f5"/>
<path d="M622,535 L624,534.5 L627,536.5 L628.5,539 L626,539.5 L623.5,537.5Z" fill="#f5a823"/>
<circle cx="620.5" cy="532.8" r="1" fill="#f5a823"/>
<circle cx="626.6" cy="536.5" r="17.3" fill="none" stroke="#000" stroke-width="1.8"/>
<path d="M640.5,547.5 Q647,556 658.5,561" fill="none" stroke="#000" stroke-width="1.8"/>
<circle cx="160" cy="288" r="102" fill="#fff" fill-opacity="0.35"/>
<circle cx="160" cy="288" r="102" fill="#e61b1a" style="mix-blend-mode:multiply"/>
<circle cx="594" cy="348" r="89" fill="#fff" fill-opacity="0.35"/>
<circle cx="594" cy="348" r="89" fill="#e61b1a" style="mix-blend-mode:multiply"/>
<circle cx="904.4" cy="340.7" r="73" fill="#fff" fill-opacity="0.35"/>
<circle cx="904.4" cy="340.7" r="73" fill="#e61b1a" style="mix-blend-mode:multiply"/>
<circle cx="697.7" cy="569.8" r="40.7" fill="#fff" fill-opacity="0.35"/>
<circle cx="697.7" cy="569.8" r="40.7" fill="#e61b1a" style="mix-blend-mode:multiply"/>
<circle cx="1137.6" cy="519" r="34.7" fill="#fff" fill-opacity="0.35"/>
<circle cx="1137.6" cy="519" r="34.7" fill="#e61b1a" style="mix-blend-mode:multiply"/>
<rect x="203.6" y="458.3" width="94.3" height="61.4" fill="#000"/>
<rect x="498" y="452.8" width="94.3" height="61.4" fill="#000"/>
<rect x="893" y="453" width="94.3" height="61.4" fill="#000"/>
<rect x="714.6" y="63.4" width="381" height="90.6" fill="#e61b1a"/>
<rect x="1098" y="63.4" width="127.6" height="90.6" fill="#e61b1a"/>
<rect x="714.6" y="156.2" width="381" height="64.4" fill="#000"/>
<rect x="1098" y="156.2" width="127.6" height="64.4" fill="#000"/>
<circle cx="24" cy="87" r="18" fill="#e61b1a"/>
<rect x="201" y="70" width="41" height="32" fill="#000"/>
<text x="9.99" y="31.4" textLength="148.14" lengthAdjust="spacingAndGlyphs" font-size="34.5" font-weight="bold" fill="#000">Llegadas</text>
<text x="164.59" y="31.4" textLength="42.46" lengthAdjust="spacingAndGlyphs" font-size="34.5" font-weight="bold" fill="#000">de</text>
<text x="214.3" y="31.4" textLength="169.19" lengthAdjust="spacingAndGlyphs" font-size="34.5" font-weight="bold" fill="#000">migrantes</text>
<text x="389.93" y="31.4" textLength="58.39" lengthAdjust="spacingAndGlyphs" font-size="34.5" font-weight="bold" fill="#000">por</text>
<text x="455.85" y="31.4" textLength="65.38" lengthAdjust="spacingAndGlyphs" font-size="34.5" font-weight="bold" fill="#000">mar</text>
<text x="529.93" y="31.4" textLength="41.28" lengthAdjust="spacingAndGlyphs" font-size="34.5" font-weight="bold" fill="#000">en</text>
<text x="579.11" y="31.4" textLength="82.37" lengthAdjust="spacingAndGlyphs" font-size="34.5" font-weight="bold" fill="#000">2018</text>
<text x="54.88" y="96.6" textLength="114.49" lengthAdjust="spacingAndGlyphs" font-size="27.5" font-weight="normal" fill="#000">Llegadas</text>
<text x="254.98" y="96.6" textLength="106.86" lengthAdjust="spacingAndGlyphs" font-size="27.5" font-weight="normal" fill="#000">Muertes</text>
<text x="731.47" y="101.6" textLength="85.96" lengthAdjust="spacingAndGlyphs" font-size="27" font-weight="bold" fill="#fff">50.872</text>
<text x="822.48" y="101.6" textLength="241.53" lengthAdjust="spacingAndGlyphs" font-size="22.5" font-weight="normal" fill="#fff">llegadas por mar en 2018</text>
<text x="820.38" y="137" textLength="240.73" lengthAdjust="spacingAndGlyphs" font-size="22.5" font-weight="normal" fill="#fff">172.152 llegadas en 2017</text>
<text x="1125.24" y="98.2" textLength="68.21" lengthAdjust="spacingAndGlyphs" font-size="26.7" font-weight="normal" fill="#fff">Hasta</text>
<text x="1105.44" y="134" textLength="111.14" lengthAdjust="spacingAndGlyphs" font-size="26" font-weight="normal" fill="#fff">15/07/18</text>
<text x="750.38" y="199.3" textLength="70.01" lengthAdjust="spacingAndGlyphs" font-size="27" font-weight="bold" fill="#fff">1.443</text>
<text x="826.29" y="199.3" textLength="236.92" lengthAdjust="spacingAndGlyphs" font-size="22.5" font-weight="normal" fill="#fff">muertes/desapareciones</text>
<text x="1105.44" y="198.7" textLength="111.14" lengthAdjust="spacingAndGlyphs" font-size="26" font-weight="normal" fill="#fff">17/07/18</text>
<text x="99.22" y="297.7" textLength="122.58" lengthAdjust="spacingAndGlyphs" font-size="41" font-weight="bold" fill="#fff">18.016</text>
<text x="541.63" y="358" textLength="104.98" lengthAdjust="spacingAndGlyphs" font-size="34.5" font-weight="bold" fill="#fff">17.827</text>
<text x="852.94" y="351.7" textLength="104.8" lengthAdjust="spacingAndGlyphs" font-size="33.5" font-weight="bold" fill="#fff">14.678</text>
<text x="672.65" y="580.1" textLength="48.94" lengthAdjust="spacingAndGlyphs" font-size="28.5" font-weight="bold" fill="#fff">243</text>
<text x="1114.14" y="530" textLength="49.17" lengthAdjust="spacingAndGlyphs" font-size="28.5" font-weight="bold" fill="#fff">108</text>
<text x="226.67" y="499.3" textLength="47.58" lengthAdjust="spacingAndGlyphs" font-size="28.5" font-weight="bold" fill="#fff">294</text>
<text x="508.95" y="493.4" textLength="72.06" lengthAdjust="spacingAndGlyphs" font-size="28.5" font-weight="bold" fill="#fff">1.104</text>
<text x="923.68" y="493.4" textLength="32.45" lengthAdjust="spacingAndGlyphs" font-size="28.5" font-weight="bold" fill="#fff">45</text>
<text x="140.22" y="431.3" textLength="94.38" lengthAdjust="spacingAndGlyphs" font-size="28" font-weight="bold" fill="#000">España</text>
<text x="434.4" y="240.8" textLength="64.74" lengthAdjust="spacingAndGlyphs" font-size="28" font-weight="bold" fill="#000">Italia</text>
<text x="736.79" y="410.7" textLength="83.46" lengthAdjust="spacingAndGlyphs" font-size="28" font-weight="bold" fill="#000">Grecia</text>
<text x="538.75" y="583.7" textLength="75.15" lengthAdjust="spacingAndGlyphs" font-size="28" font-weight="bold" fill="#000">Malta</text>
<text x="983.02" y="601.9" textLength="89.16" lengthAdjust="spacingAndGlyphs" font-size="28" font-weight="bold" fill="#000">Chipre</text>
<text x="0.59" y="674.9" textLength="73.05" lengthAdjust="spacingAndGlyphs" font-size="19.6" font-weight="bold" fill="#000">Fuente:</text>
<text x="1174.79" y="674.6" textLength="40.17" lengthAdjust="spacingAndGlyphs" font-size="20" font-weight="bold" fill="#000">ABC</text>
<text x="75.68" y="674.9" textLength="123.14" lengthAdjust="spacingAndGlyphs" font-size="19.6" font-weight="normal" fill="#000">Organización</text>
<text x="202.44" y="674.9" textLength="123.25" lengthAdjust="spacingAndGlyphs" font-size="19.6" font-weight="normal" fill="#000">Internacional</text>
<text x="330.79" y="674.9" textLength="23.33" lengthAdjust="spacingAndGlyphs" font-size="19.6" font-weight="normal" fill="#000">de</text>
<text x="358.84" y="674.9" textLength="24.12" lengthAdjust="spacingAndGlyphs" font-size="19.6" font-weight="normal" fill="#000">las</text>
<text x="387.01" y="674.9" textLength="113.41" lengthAdjust="spacingAndGlyphs" font-size="19.6" font-weight="normal" fill="#000">Migraciones</text>
<text x="505.99" y="674.9" textLength="50.57" lengthAdjust="spacingAndGlyphs" font-size="19.6" font-weight="normal" fill="#000">(OIM)</text>
</svg></body></html>
